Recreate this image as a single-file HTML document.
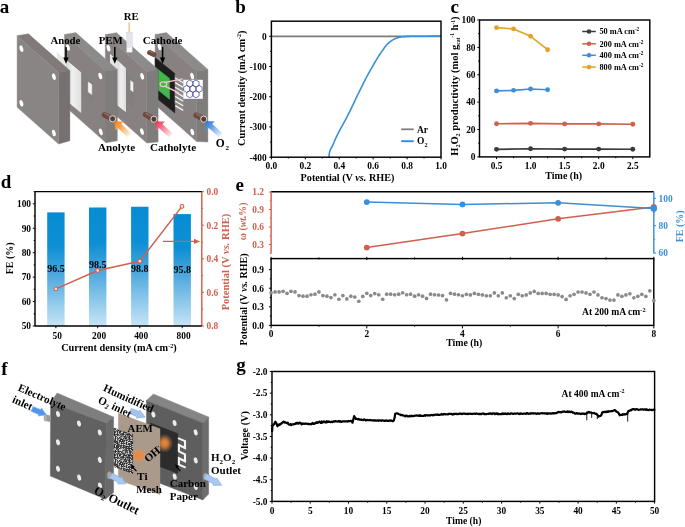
<!DOCTYPE html>
<html><head><meta charset="utf-8"><style>
html,body{margin:0;padding:0;background:#fff;}
svg{display:block;filter:blur(0.3px);}
</style></head><body>
<svg width="685" height="527" viewBox="0 0 685 527" font-family="Liberation Serif" font-weight="bold">
<text x="-0.30" y="12.60" font-size="19" text-anchor="start" fill="#000" >a</text>
<text x="235.20" y="12.70" font-size="19" text-anchor="start" fill="#000" >b</text>
<text x="450.60" y="12.70" font-size="19" text-anchor="start" fill="#000" >c</text>
<text x="0.80" y="188.20" font-size="19" text-anchor="start" fill="#000" >d</text>
<text x="235.60" y="190.50" font-size="19" text-anchor="start" fill="#000" >e</text>
<text x="1.30" y="375.30" font-size="19" text-anchor="start" fill="#000" >f</text>
<text x="236.20" y="370.70" font-size="19" text-anchor="start" fill="#000" >g</text>
<line x1="271.40" y1="157.20" x2="271.40" y2="159.40" stroke="#000" stroke-width="1.0" />
<line x1="305.32" y1="157.20" x2="305.32" y2="159.40" stroke="#000" stroke-width="1.0" />
<line x1="339.24" y1="157.20" x2="339.24" y2="159.40" stroke="#000" stroke-width="1.0" />
<line x1="373.16" y1="157.20" x2="373.16" y2="159.40" stroke="#000" stroke-width="1.0" />
<line x1="407.08" y1="157.20" x2="407.08" y2="159.40" stroke="#000" stroke-width="1.0" />
<line x1="441.00" y1="157.20" x2="441.00" y2="159.40" stroke="#000" stroke-width="1.0" />
<line x1="288.36" y1="157.20" x2="288.36" y2="158.50" stroke="#000" stroke-width="1.0" />
<line x1="322.28" y1="157.20" x2="322.28" y2="158.50" stroke="#000" stroke-width="1.0" />
<line x1="356.20" y1="157.20" x2="356.20" y2="158.50" stroke="#000" stroke-width="1.0" />
<line x1="390.12" y1="157.20" x2="390.12" y2="158.50" stroke="#000" stroke-width="1.0" />
<line x1="424.04" y1="157.20" x2="424.04" y2="158.50" stroke="#000" stroke-width="1.0" />
<line x1="271.40" y1="36.31" x2="269.20" y2="36.31" stroke="#000" stroke-width="1.0" />
<line x1="271.40" y1="66.53" x2="269.20" y2="66.53" stroke="#000" stroke-width="1.0" />
<line x1="271.40" y1="96.76" x2="269.20" y2="96.76" stroke="#000" stroke-width="1.0" />
<line x1="271.40" y1="126.98" x2="269.20" y2="126.98" stroke="#000" stroke-width="1.0" />
<line x1="271.40" y1="157.20" x2="269.20" y2="157.20" stroke="#000" stroke-width="1.0" />
<line x1="271.40" y1="51.42" x2="270.10" y2="51.42" stroke="#000" stroke-width="1.0" />
<line x1="271.40" y1="81.64" x2="270.10" y2="81.64" stroke="#000" stroke-width="1.0" />
<line x1="271.40" y1="111.87" x2="270.10" y2="111.87" stroke="#000" stroke-width="1.0" />
<line x1="271.40" y1="142.09" x2="270.10" y2="142.09" stroke="#000" stroke-width="1.0" />
<text x="271.40" y="169.00" font-size="9.4" text-anchor="middle" fill="#000" >0.0</text>
<text x="305.32" y="169.00" font-size="9.4" text-anchor="middle" fill="#000" >0.2</text>
<text x="339.24" y="169.00" font-size="9.4" text-anchor="middle" fill="#000" >0.4</text>
<text x="373.16" y="169.00" font-size="9.4" text-anchor="middle" fill="#000" >0.6</text>
<text x="407.08" y="169.00" font-size="9.4" text-anchor="middle" fill="#000" >0.8</text>
<text x="441.00" y="169.00" font-size="9.4" text-anchor="middle" fill="#000" >1.0</text>
<text x="266.60" y="39.61" font-size="9.4" text-anchor="end" fill="#000" >0</text>
<text x="266.60" y="69.83" font-size="9.4" text-anchor="end" fill="#000" >-100</text>
<text x="266.60" y="100.06" font-size="9.4" text-anchor="end" fill="#000" >-200</text>
<text x="266.60" y="130.28" font-size="9.4" text-anchor="end" fill="#000" >-300</text>
<text x="266.60" y="160.50" font-size="9.4" text-anchor="end" fill="#000" >-400</text>
<line x1="271.40" y1="36.40" x2="441.00" y2="36.40" stroke="#7a7a7a" stroke-width="1.6" />
<clipPath id="cpb"><rect x="271.4" y="21.2" width="169.6" height="136"/></clipPath>
<polyline points="328.70,158.50 328.71,158.42 328.72,158.34 328.74,158.24 328.77,158.04 328.82,157.72 328.90,157.20 329.00,156.44 329.11,155.46 329.25,154.35 329.42,153.18 329.63,152.04 329.90,151.00 330.23,150.09 330.63,149.24 331.06,148.42 331.53,147.58 332.01,146.69 332.50,145.70 332.99,144.61 333.49,143.45 334.01,142.24 334.54,140.98 335.11,139.70 335.70,138.40 336.31,137.11 336.92,135.83 337.56,134.51 338.24,133.14 338.98,131.68 339.80,130.10 340.72,128.38 341.74,126.54 342.81,124.62 343.92,122.63 345.02,120.62 346.10,118.60 347.18,116.50 348.31,114.28 349.44,112.02 350.52,109.83 351.52,107.79 352.40,106.00 353.10,104.54 353.65,103.35 354.12,102.32 354.57,101.31 355.07,100.22 355.70,98.90 356.46,97.35 357.29,95.65 358.18,93.86 359.10,92.02 360.01,90.18 360.90,88.40 361.77,86.65 362.63,84.89 363.50,83.13 364.37,81.39 365.23,79.67 366.10,78.00 366.97,76.37 367.83,74.78 368.70,73.21 369.57,71.67 370.43,70.13 371.30,68.60 372.17,67.07 373.03,65.53 373.90,64.01 374.77,62.51 375.63,61.04 376.50,59.60 377.36,58.20 378.21,56.84 379.06,55.51 379.92,54.20 380.80,52.90 381.70,51.60 382.63,50.27 383.59,48.92 384.56,47.58 385.54,46.28 386.52,45.08 387.50,44.00 388.48,43.06 389.46,42.22 390.45,41.47 391.44,40.79 392.42,40.17 393.40,39.60 394.37,39.08 395.34,38.62 396.31,38.22 397.27,37.87 398.23,37.57 399.20,37.30 400.18,37.09 401.16,36.93 402.15,36.82 403.13,36.74 404.08,36.67 405.00,36.60 405.76,36.52 406.36,36.46 406.93,36.41 407.62,36.37 408.60,36.33 410.00,36.30 411.91,36.27 414.22,36.25 416.81,36.24 419.56,36.23 422.33,36.21 425.00,36.20 427.79,36.18 430.85,36.16 433.94,36.14 436.81,36.13 439.25,36.11 441.00,36.10" fill="none" stroke="#3a8fd6" stroke-width="1.6" stroke-linejoin="round" clip-path="url(#cpb)"/>
<line x1="401.20" y1="129.30" x2="413.70" y2="129.30" stroke="#7a7a7a" stroke-width="1.7" />
<text x="417.00" y="132.60" font-size="9.5" text-anchor="start" fill="#000" >Ar</text>
<line x1="401.20" y1="141.20" x2="413.70" y2="141.20" stroke="#3a8fd6" stroke-width="2.0" />
<text x="417.00" y="143.90" font-size="9.5" text-anchor="start" fill="#000" >O<tspan font-size="6.2" dy="2.8">2</tspan></text>
<rect x="271.4" y="21.2" width="169.60000000000002" height="136.0" fill="none" stroke="#000" stroke-width="1.45"/>
<text x="347.50" y="181.10" font-size="10.2" text-anchor="middle" fill="#000" >Potential (V <tspan font-style="italic">vs.</tspan> RHE)</text>
<text transform="translate(244.5,88.2) rotate(-90)" font-size="10.3" text-anchor="middle">Current density (mA cm<tspan font-size="6" dy="-3.5">-2</tspan><tspan dy="3.5">)</tspan></text>
<line x1="496.53" y1="156.90" x2="496.53" y2="159.10" stroke="#000" stroke-width="1.0" />
<line x1="530.59" y1="156.90" x2="530.59" y2="159.10" stroke="#000" stroke-width="1.0" />
<line x1="564.65" y1="156.90" x2="564.65" y2="159.10" stroke="#000" stroke-width="1.0" />
<line x1="598.71" y1="156.90" x2="598.71" y2="159.10" stroke="#000" stroke-width="1.0" />
<line x1="632.77" y1="156.90" x2="632.77" y2="159.10" stroke="#000" stroke-width="1.0" />
<line x1="513.56" y1="156.90" x2="513.56" y2="158.20" stroke="#000" stroke-width="1.0" />
<line x1="547.62" y1="156.90" x2="547.62" y2="158.20" stroke="#000" stroke-width="1.0" />
<line x1="581.68" y1="156.90" x2="581.68" y2="158.20" stroke="#000" stroke-width="1.0" />
<line x1="615.74" y1="156.90" x2="615.74" y2="158.20" stroke="#000" stroke-width="1.0" />
<line x1="479.50" y1="156.90" x2="477.30" y2="156.90" stroke="#000" stroke-width="1.0" />
<line x1="479.50" y1="129.52" x2="477.30" y2="129.52" stroke="#000" stroke-width="1.0" />
<line x1="479.50" y1="102.14" x2="477.30" y2="102.14" stroke="#000" stroke-width="1.0" />
<line x1="479.50" y1="74.76" x2="477.30" y2="74.76" stroke="#000" stroke-width="1.0" />
<line x1="479.50" y1="47.38" x2="477.30" y2="47.38" stroke="#000" stroke-width="1.0" />
<line x1="479.50" y1="20.00" x2="477.30" y2="20.00" stroke="#000" stroke-width="1.0" />
<line x1="479.50" y1="143.21" x2="478.20" y2="143.21" stroke="#000" stroke-width="1.0" />
<line x1="479.50" y1="115.83" x2="478.20" y2="115.83" stroke="#000" stroke-width="1.0" />
<line x1="479.50" y1="88.45" x2="478.20" y2="88.45" stroke="#000" stroke-width="1.0" />
<line x1="479.50" y1="61.07" x2="478.20" y2="61.07" stroke="#000" stroke-width="1.0" />
<line x1="479.50" y1="33.69" x2="478.20" y2="33.69" stroke="#000" stroke-width="1.0" />
<text x="496.53" y="169.00" font-size="9.4" text-anchor="middle" fill="#000" >0.5</text>
<text x="530.59" y="169.00" font-size="9.4" text-anchor="middle" fill="#000" >1.0</text>
<text x="564.65" y="169.00" font-size="9.4" text-anchor="middle" fill="#000" >1.5</text>
<text x="598.71" y="169.00" font-size="9.4" text-anchor="middle" fill="#000" >2.0</text>
<text x="632.77" y="169.00" font-size="9.4" text-anchor="middle" fill="#000" >2.5</text>
<text x="475.50" y="160.20" font-size="9.4" text-anchor="end" fill="#000" >0</text>
<text x="475.50" y="132.82" font-size="9.4" text-anchor="end" fill="#000" >20</text>
<text x="475.50" y="105.44" font-size="9.4" text-anchor="end" fill="#000" >40</text>
<text x="475.50" y="78.06" font-size="9.4" text-anchor="end" fill="#000" >60</text>
<text x="475.50" y="50.68" font-size="9.4" text-anchor="end" fill="#000" >80</text>
<text x="475.50" y="23.30" font-size="9.4" text-anchor="end" fill="#000" >100</text>
<polyline points="496.53,149.37 530.59,148.69 564.65,149.10 598.71,149.10 632.77,149.23" fill="none" stroke="#3a3a3a" stroke-width="1.6" stroke-linejoin="round" stroke-linecap="round" />
<circle cx="496.53" cy="149.37" r="2.45" fill="#3a3a3a"/>
<circle cx="530.59" cy="148.69" r="2.45" fill="#3a3a3a"/>
<circle cx="564.65" cy="149.10" r="2.45" fill="#3a3a3a"/>
<circle cx="598.71" cy="149.10" r="2.45" fill="#3a3a3a"/>
<circle cx="632.77" cy="149.23" r="2.45" fill="#3a3a3a"/>
<polyline points="496.53,123.77 530.59,123.36 564.65,123.91 598.71,123.91 632.77,124.32" fill="none" stroke="#d0604d" stroke-width="1.6" stroke-linejoin="round" stroke-linecap="round" />
<circle cx="496.53" cy="123.77" r="2.45" fill="#d0604d"/>
<circle cx="530.59" cy="123.36" r="2.45" fill="#d0604d"/>
<circle cx="564.65" cy="123.91" r="2.45" fill="#d0604d"/>
<circle cx="598.71" cy="123.91" r="2.45" fill="#d0604d"/>
<circle cx="632.77" cy="124.32" r="2.45" fill="#d0604d"/>
<polyline points="496.53,90.91 513.56,90.37 530.59,89.00 547.62,89.82" fill="none" stroke="#3a8fd6" stroke-width="1.6" stroke-linejoin="round" stroke-linecap="round" />
<circle cx="496.53" cy="90.91" r="2.45" fill="#3a8fd6"/>
<circle cx="513.56" cy="90.37" r="2.45" fill="#3a8fd6"/>
<circle cx="530.59" cy="89.00" r="2.45" fill="#3a8fd6"/>
<circle cx="547.62" cy="89.82" r="2.45" fill="#3a8fd6"/>
<polyline points="496.53,27.67 513.56,28.90 530.59,36.29 547.62,49.71" fill="none" stroke="#e0a526" stroke-width="1.6" stroke-linejoin="round" stroke-linecap="round" />
<circle cx="496.53" cy="27.67" r="2.45" fill="#e0a526"/>
<circle cx="513.56" cy="28.90" r="2.45" fill="#e0a526"/>
<circle cx="530.59" cy="36.29" r="2.45" fill="#e0a526"/>
<circle cx="547.62" cy="49.71" r="2.45" fill="#e0a526"/>
<line x1="582.20" y1="31.50" x2="595.80" y2="31.50" stroke="#3a3a3a" stroke-width="1.5" />
<circle cx="589.00" cy="31.50" r="2.3" fill="#3a3a3a"/>
<text x="599.40" y="34.40" font-size="8.3" text-anchor="start" fill="#000" >50 mA cm<tspan font-size="5.2" dy="-3">-2</tspan></text>
<line x1="582.20" y1="43.80" x2="595.80" y2="43.80" stroke="#d0604d" stroke-width="1.5" />
<circle cx="589.00" cy="43.80" r="2.3" fill="#d0604d"/>
<text x="599.40" y="46.70" font-size="8.3" text-anchor="start" fill="#000" >200 mA cm<tspan font-size="5.2" dy="-3">-2</tspan></text>
<line x1="582.20" y1="55.30" x2="595.80" y2="55.30" stroke="#3a8fd6" stroke-width="1.5" />
<circle cx="589.00" cy="55.30" r="2.3" fill="#3a8fd6"/>
<text x="599.40" y="58.20" font-size="8.3" text-anchor="start" fill="#000" >400 mA cm<tspan font-size="5.2" dy="-3">-2</tspan></text>
<line x1="582.20" y1="67.10" x2="595.80" y2="67.10" stroke="#e0a526" stroke-width="1.5" />
<circle cx="589.00" cy="67.10" r="2.3" fill="#e0a526"/>
<text x="599.40" y="70.00" font-size="8.3" text-anchor="start" fill="#000" >800 mA cm<tspan font-size="5.2" dy="-3">-2</tspan></text>
<rect x="479.5" y="20.0" width="170.29999999999995" height="136.9" fill="none" stroke="#000" stroke-width="1.45"/>
<text x="563.70" y="178.50" font-size="10" text-anchor="middle" fill="#000" >Time (h)</text>
<text transform="translate(458.4,86.1) rotate(-90)" font-size="10.5" text-anchor="middle">H<tspan font-size="6" dy="2">2</tspan><tspan dy="-2">O</tspan><tspan font-size="6" dy="2">2</tspan><tspan dy="-2"> productivity (mol g</tspan><tspan font-size="5.5" dy="2">cat</tspan><tspan font-size="5.5" dy="-6">-1</tspan><tspan dy="4"> h</tspan><tspan font-size="5.5" dy="-3.5">-1</tspan><tspan dy="3.5">)</tspan></text>
<defs><linearGradient id="barg" x1="0" y1="0" x2="0" y2="1"><stop offset="0" stop-color="#078cd3"/><stop offset="0.3" stop-color="#0d8fd4"/><stop offset="0.55" stop-color="#4ea8dd"/><stop offset="1" stop-color="#c6e5f6"/></linearGradient></defs>
<rect x="47.20" y="212.37" width="17.40" height="113.63" fill="url(#barg)" />
<rect x="89.00" y="207.48" width="17.40" height="118.52" fill="url(#barg)" />
<rect x="131.10" y="206.75" width="17.40" height="119.25" fill="url(#barg)" />
<rect x="173.50" y="214.08" width="17.40" height="111.92" fill="url(#barg)" />
<text x="55.90" y="271.80" font-size="10" text-anchor="middle" fill="#000" >96.5</text>
<text x="97.70" y="268.20" font-size="10" text-anchor="middle" fill="#000" >98.5</text>
<text x="139.80" y="271.80" font-size="10" text-anchor="middle" fill="#000" >98.8</text>
<text x="182.20" y="272.50" font-size="10" text-anchor="middle" fill="#000" >95.8</text>
<polyline points="55.90,288.90 97.70,270.50 139.80,261.20 182.00,206.40" fill="none" stroke="#d0604d" stroke-width="1.5" stroke-linejoin="round" stroke-linecap="round" />
<circle cx="55.9" cy="288.9" r="1.9" fill="#fbe6e0" stroke="#d0604d" stroke-width="1.1"/>
<circle cx="97.7" cy="270.5" r="1.9" fill="#fbe6e0" stroke="#d0604d" stroke-width="1.1"/>
<circle cx="139.8" cy="261.2" r="1.9" fill="#fbe6e0" stroke="#d0604d" stroke-width="1.1"/>
<circle cx="182.0" cy="206.4" r="1.9" fill="#fbe6e0" stroke="#d0604d" stroke-width="1.1"/>
<line x1="162.90" y1="241.40" x2="196.00" y2="241.40" stroke="#d0604d" stroke-width="1.1" />
<polygon points="200,241.4 194,238.7 194,244.1" fill="#d0604d"/>
<line x1="55.90" y1="326.00" x2="55.90" y2="328.20" stroke="#000" stroke-width="1.0" />
<line x1="97.70" y1="326.00" x2="97.70" y2="328.20" stroke="#000" stroke-width="1.0" />
<line x1="139.80" y1="326.00" x2="139.80" y2="328.20" stroke="#000" stroke-width="1.0" />
<line x1="182.20" y1="326.00" x2="182.20" y2="328.20" stroke="#000" stroke-width="1.0" />
<line x1="35.00" y1="326.00" x2="32.80" y2="326.00" stroke="#000" stroke-width="1.0" />
<line x1="35.00" y1="301.56" x2="32.80" y2="301.56" stroke="#000" stroke-width="1.0" />
<line x1="35.00" y1="277.13" x2="32.80" y2="277.13" stroke="#000" stroke-width="1.0" />
<line x1="35.00" y1="252.69" x2="32.80" y2="252.69" stroke="#000" stroke-width="1.0" />
<line x1="35.00" y1="228.25" x2="32.80" y2="228.25" stroke="#000" stroke-width="1.0" />
<line x1="35.00" y1="203.82" x2="32.80" y2="203.82" stroke="#000" stroke-width="1.0" />
<line x1="35.00" y1="313.78" x2="33.70" y2="313.78" stroke="#000" stroke-width="1.0" />
<line x1="35.00" y1="289.35" x2="33.70" y2="289.35" stroke="#000" stroke-width="1.0" />
<line x1="35.00" y1="264.91" x2="33.70" y2="264.91" stroke="#000" stroke-width="1.0" />
<line x1="35.00" y1="240.47" x2="33.70" y2="240.47" stroke="#000" stroke-width="1.0" />
<line x1="35.00" y1="216.04" x2="33.70" y2="216.04" stroke="#000" stroke-width="1.0" />
<line x1="35.00" y1="191.60" x2="33.70" y2="191.60" stroke="#000" stroke-width="1.0" />
<text x="31.00" y="329.30" font-size="9.4" text-anchor="end" fill="#000" >50</text>
<text x="31.00" y="304.86" font-size="9.4" text-anchor="end" fill="#000" >60</text>
<text x="31.00" y="280.43" font-size="9.4" text-anchor="end" fill="#000" >70</text>
<text x="31.00" y="255.99" font-size="9.4" text-anchor="end" fill="#000" >80</text>
<text x="31.00" y="231.55" font-size="9.4" text-anchor="end" fill="#000" >90</text>
<text x="31.00" y="207.12" font-size="9.4" text-anchor="end" fill="#000" >100</text>
<text x="57.30" y="338.70" font-size="9.4" text-anchor="middle" fill="#000" >50</text>
<text x="99.10" y="338.70" font-size="9.4" text-anchor="middle" fill="#000" >200</text>
<text x="141.20" y="338.70" font-size="9.4" text-anchor="middle" fill="#000" >400</text>
<text x="183.60" y="338.70" font-size="9.4" text-anchor="middle" fill="#000" >800</text>
<line x1="201.80" y1="191.60" x2="201.80" y2="326.00" stroke="#d0604d" stroke-width="1.45" />
<line x1="201.80" y1="191.60" x2="204.00" y2="191.60" stroke="#d0604d" stroke-width="1.0" />
<line x1="201.80" y1="225.20" x2="204.00" y2="225.20" stroke="#d0604d" stroke-width="1.0" />
<line x1="201.80" y1="258.80" x2="204.00" y2="258.80" stroke="#d0604d" stroke-width="1.0" />
<line x1="201.80" y1="292.40" x2="204.00" y2="292.40" stroke="#d0604d" stroke-width="1.0" />
<line x1="201.80" y1="326.00" x2="204.00" y2="326.00" stroke="#d0604d" stroke-width="1.0" />
<line x1="201.80" y1="208.40" x2="203.10" y2="208.40" stroke="#d0604d" stroke-width="1.0" />
<line x1="201.80" y1="242.00" x2="203.10" y2="242.00" stroke="#d0604d" stroke-width="1.0" />
<line x1="201.80" y1="275.60" x2="203.10" y2="275.60" stroke="#d0604d" stroke-width="1.0" />
<line x1="201.80" y1="309.20" x2="203.10" y2="309.20" stroke="#d0604d" stroke-width="1.0" />
<text x="206.50" y="194.90" font-size="9.4" text-anchor="start" fill="#d0604d" >0.0</text>
<text x="206.50" y="228.50" font-size="9.4" text-anchor="start" fill="#d0604d" >0.2</text>
<text x="206.50" y="262.10" font-size="9.4" text-anchor="start" fill="#d0604d" >0.4</text>
<text x="206.50" y="295.70" font-size="9.4" text-anchor="start" fill="#d0604d" >0.6</text>
<text x="206.50" y="329.30" font-size="9.4" text-anchor="start" fill="#d0604d" >0.8</text>
<line x1="35.00" y1="191.60" x2="201.80" y2="191.60" stroke="#000" stroke-width="1.45" />
<line x1="35.00" y1="326.00" x2="201.80" y2="326.00" stroke="#000" stroke-width="1.45" />
<line x1="35.00" y1="191.60" x2="35.00" y2="326.00" stroke="#000" stroke-width="1.45" />
<text x="118.90" y="351.30" font-size="10.3" text-anchor="middle" fill="#000" >Current density (mA cm<tspan font-size="6" dy="-3.5">-2</tspan><tspan dy="3.5">)</tspan></text>
<text transform="translate(12.7,258.3) rotate(-90)" font-size="10" text-anchor="middle">FE (%)</text>
<text transform="translate(228.5,262) rotate(-90)" font-size="10.5" text-anchor="middle" fill="#d0604d">Potential (V <tspan font-style="italic">vs.</tspan> RHE)</text>
<line x1="271.10" y1="191.80" x2="653.80" y2="191.80" stroke="#000" stroke-width="1.45" />
<line x1="271.10" y1="191.80" x2="271.10" y2="253.50" stroke="#d0604d" stroke-width="1.45" />
<line x1="653.80" y1="191.80" x2="653.80" y2="253.50" stroke="#3a8fd6" stroke-width="1.45" />
<line x1="271.10" y1="244.50" x2="268.90" y2="244.50" stroke="#d0604d" stroke-width="1.0" />
<line x1="271.10" y1="227.00" x2="268.90" y2="227.00" stroke="#d0604d" stroke-width="1.0" />
<line x1="271.10" y1="209.50" x2="268.90" y2="209.50" stroke="#d0604d" stroke-width="1.0" />
<line x1="271.10" y1="192.00" x2="268.90" y2="192.00" stroke="#d0604d" stroke-width="1.0" />
<line x1="271.10" y1="253.25" x2="269.80" y2="253.25" stroke="#d0604d" stroke-width="1.0" />
<line x1="271.10" y1="235.75" x2="269.80" y2="235.75" stroke="#d0604d" stroke-width="1.0" />
<line x1="271.10" y1="218.25" x2="269.80" y2="218.25" stroke="#d0604d" stroke-width="1.0" />
<line x1="271.10" y1="200.75" x2="269.80" y2="200.75" stroke="#d0604d" stroke-width="1.0" />
<text x="264.00" y="247.80" font-size="9.4" text-anchor="end" fill="#d0604d" >0.3</text>
<text x="264.00" y="230.30" font-size="9.4" text-anchor="end" fill="#d0604d" >0.6</text>
<text x="264.00" y="212.80" font-size="9.4" text-anchor="end" fill="#d0604d" >0.9</text>
<text x="264.00" y="195.30" font-size="9.4" text-anchor="end" fill="#d0604d" >1.2</text>
<line x1="653.80" y1="253.00" x2="656.00" y2="253.00" stroke="#3a8fd6" stroke-width="1.0" />
<line x1="653.80" y1="225.70" x2="656.00" y2="225.70" stroke="#3a8fd6" stroke-width="1.0" />
<line x1="653.80" y1="198.40" x2="656.00" y2="198.40" stroke="#3a8fd6" stroke-width="1.0" />
<line x1="653.80" y1="239.35" x2="655.10" y2="239.35" stroke="#3a8fd6" stroke-width="1.0" />
<line x1="653.80" y1="212.05" x2="655.10" y2="212.05" stroke="#3a8fd6" stroke-width="1.0" />
<text x="658.50" y="256.30" font-size="9.4" text-anchor="start" fill="#3a8fd6" >60</text>
<text x="658.50" y="229.00" font-size="9.4" text-anchor="start" fill="#3a8fd6" >80</text>
<text x="658.50" y="201.70" font-size="9.4" text-anchor="start" fill="#3a8fd6" >100</text>
<polyline points="366.77,247.60 462.45,233.60 558.12,218.80 653.80,207.00" fill="none" stroke="#d0604d" stroke-width="1.5" stroke-linejoin="round" stroke-linecap="round" />
<circle cx="366.77" cy="247.60" r="2.9" fill="#d0604d"/>
<circle cx="462.45" cy="233.60" r="2.9" fill="#d0604d"/>
<circle cx="558.12" cy="218.80" r="2.9" fill="#d0604d"/>
<circle cx="653.80" cy="207.00" r="2.9" fill="#d0604d"/>
<polyline points="366.77,202.10 462.45,204.40 558.12,202.80 653.80,208.60" fill="none" stroke="#3a8fd6" stroke-width="1.5" stroke-linejoin="round" stroke-linecap="round" />
<circle cx="366.77" cy="202.10" r="2.9" fill="#3a8fd6"/>
<circle cx="462.45" cy="204.40" r="2.9" fill="#3a8fd6"/>
<circle cx="558.12" cy="202.80" r="2.9" fill="#3a8fd6"/>
<circle cx="653.80" cy="208.60" r="3.3" fill="#3a8fd6"/>
<text transform="translate(245.8,221.4) rotate(-90)" font-size="9.8" text-anchor="middle" fill="#d0604d">ω (<tspan font-style="italic">wt.</tspan>%)</text>
<text transform="translate(683,226.3) rotate(-90)" font-size="10" text-anchor="middle" fill="#3a8fd6">FE (%)</text>
<rect x="271.1" y="258.6" width="382.69999999999993" height="66.79999999999995" fill="none" stroke="#000" stroke-width="1.45"/>
<line x1="271.10" y1="325.40" x2="271.10" y2="328.40" stroke="#000" stroke-width="1.0" />
<line x1="366.77" y1="325.40" x2="366.77" y2="328.40" stroke="#000" stroke-width="1.0" />
<line x1="462.45" y1="325.40" x2="462.45" y2="328.40" stroke="#000" stroke-width="1.0" />
<line x1="558.12" y1="325.40" x2="558.12" y2="328.40" stroke="#000" stroke-width="1.0" />
<line x1="653.80" y1="325.40" x2="653.80" y2="328.40" stroke="#000" stroke-width="1.0" />
<line x1="318.94" y1="325.40" x2="318.94" y2="326.70" stroke="#000" stroke-width="1.0" />
<line x1="414.61" y1="325.40" x2="414.61" y2="326.70" stroke="#000" stroke-width="1.0" />
<line x1="510.29" y1="325.40" x2="510.29" y2="326.70" stroke="#000" stroke-width="1.0" />
<line x1="605.96" y1="325.40" x2="605.96" y2="326.70" stroke="#000" stroke-width="1.0" />
<line x1="271.10" y1="256.80" x2="271.10" y2="260.10" stroke="#000" stroke-width="1.0" />
<line x1="366.77" y1="256.80" x2="366.77" y2="260.10" stroke="#000" stroke-width="1.0" />
<line x1="462.45" y1="256.80" x2="462.45" y2="260.10" stroke="#000" stroke-width="1.0" />
<line x1="558.12" y1="256.80" x2="558.12" y2="260.10" stroke="#000" stroke-width="1.0" />
<line x1="653.80" y1="256.80" x2="653.80" y2="260.10" stroke="#000" stroke-width="1.0" />
<line x1="318.94" y1="257.40" x2="318.94" y2="259.40" stroke="#000" stroke-width="1.0" />
<line x1="414.61" y1="257.40" x2="414.61" y2="259.40" stroke="#000" stroke-width="1.0" />
<line x1="510.29" y1="257.40" x2="510.29" y2="259.40" stroke="#000" stroke-width="1.0" />
<line x1="605.96" y1="257.40" x2="605.96" y2="259.40" stroke="#000" stroke-width="1.0" />
<line x1="271.10" y1="325.40" x2="268.90" y2="325.40" stroke="#000" stroke-width="1.0" />
<line x1="271.10" y1="306.80" x2="268.90" y2="306.80" stroke="#000" stroke-width="1.0" />
<line x1="271.10" y1="288.20" x2="268.90" y2="288.20" stroke="#000" stroke-width="1.0" />
<line x1="271.10" y1="269.60" x2="268.90" y2="269.60" stroke="#000" stroke-width="1.0" />
<line x1="271.10" y1="316.10" x2="269.80" y2="316.10" stroke="#000" stroke-width="1.0" />
<line x1="271.10" y1="297.50" x2="269.80" y2="297.50" stroke="#000" stroke-width="1.0" />
<line x1="271.10" y1="278.90" x2="269.80" y2="278.90" stroke="#000" stroke-width="1.0" />
<text x="264.00" y="328.70" font-size="9.4" text-anchor="end" fill="#000" >0.0</text>
<text x="264.00" y="310.10" font-size="9.4" text-anchor="end" fill="#000" >0.3</text>
<text x="264.00" y="291.50" font-size="9.4" text-anchor="end" fill="#000" >0.6</text>
<text x="264.00" y="272.90" font-size="9.4" text-anchor="end" fill="#000" >0.9</text>
<text x="271.10" y="336.50" font-size="9.4" text-anchor="middle" fill="#000" >0</text>
<text x="366.77" y="336.50" font-size="9.4" text-anchor="middle" fill="#000" >2</text>
<text x="462.45" y="336.50" font-size="9.4" text-anchor="middle" fill="#000" >4</text>
<text x="558.12" y="336.50" font-size="9.4" text-anchor="middle" fill="#000" >6</text>
<text x="653.80" y="336.50" font-size="9.4" text-anchor="middle" fill="#000" >8</text>
<text x="464.20" y="346.20" font-size="9.8" text-anchor="middle" fill="#000" >Time (h)</text>
<text transform="translate(246.5,299.4) rotate(-90)" font-size="10" text-anchor="middle">Potential (V <tspan font-style="italic">vs.</tspan> RHE)</text>
<text x="645.50" y="315.20" font-size="9.6" text-anchor="end" fill="#000" >At 200 mA cm<tspan font-size="6.2" dy="-3.6">-2</tspan></text>
<circle cx="271.10" cy="292.74" r="1.85" fill="#8a8a8a"/>
<circle cx="275.09" cy="291.89" r="1.85" fill="#8a8a8a"/>
<circle cx="279.07" cy="291.89" r="1.85" fill="#8a8a8a"/>
<circle cx="283.06" cy="291.33" r="1.85" fill="#8a8a8a"/>
<circle cx="287.05" cy="293.31" r="1.85" fill="#8a8a8a"/>
<circle cx="291.03" cy="291.33" r="1.85" fill="#8a8a8a"/>
<circle cx="295.02" cy="291.89" r="1.85" fill="#8a8a8a"/>
<circle cx="299.01" cy="295.58" r="1.85" fill="#8a8a8a"/>
<circle cx="302.99" cy="296.14" r="1.85" fill="#8a8a8a"/>
<circle cx="306.98" cy="296.14" r="1.85" fill="#8a8a8a"/>
<circle cx="310.96" cy="294.73" r="1.85" fill="#8a8a8a"/>
<circle cx="314.95" cy="294.16" r="1.85" fill="#8a8a8a"/>
<circle cx="318.94" cy="291.89" r="1.85" fill="#8a8a8a"/>
<circle cx="322.92" cy="295.58" r="1.85" fill="#8a8a8a"/>
<circle cx="326.91" cy="296.14" r="1.85" fill="#8a8a8a"/>
<circle cx="330.90" cy="297.56" r="1.85" fill="#8a8a8a"/>
<circle cx="334.88" cy="294.73" r="1.85" fill="#8a8a8a"/>
<circle cx="338.87" cy="299.26" r="1.85" fill="#8a8a8a"/>
<circle cx="342.86" cy="295.58" r="1.85" fill="#8a8a8a"/>
<circle cx="346.84" cy="298.97" r="1.85" fill="#8a8a8a"/>
<circle cx="350.83" cy="296.14" r="1.85" fill="#8a8a8a"/>
<circle cx="354.82" cy="296.99" r="1.85" fill="#8a8a8a"/>
<circle cx="358.80" cy="301.24" r="1.85" fill="#8a8a8a"/>
<circle cx="362.79" cy="296.43" r="1.85" fill="#8a8a8a"/>
<circle cx="366.78" cy="293.31" r="1.85" fill="#8a8a8a"/>
<circle cx="370.76" cy="295.58" r="1.85" fill="#8a8a8a"/>
<circle cx="374.75" cy="293.59" r="1.85" fill="#8a8a8a"/>
<circle cx="378.73" cy="294.73" r="1.85" fill="#8a8a8a"/>
<circle cx="382.72" cy="299.26" r="1.85" fill="#8a8a8a"/>
<circle cx="386.71" cy="294.16" r="1.85" fill="#8a8a8a"/>
<circle cx="390.69" cy="294.16" r="1.85" fill="#8a8a8a"/>
<circle cx="394.68" cy="294.73" r="1.85" fill="#8a8a8a"/>
<circle cx="398.67" cy="294.16" r="1.85" fill="#8a8a8a"/>
<circle cx="402.65" cy="292.74" r="1.85" fill="#8a8a8a"/>
<circle cx="406.64" cy="294.73" r="1.85" fill="#8a8a8a"/>
<circle cx="410.63" cy="294.16" r="1.85" fill="#8a8a8a"/>
<circle cx="414.61" cy="296.14" r="1.85" fill="#8a8a8a"/>
<circle cx="418.60" cy="294.73" r="1.85" fill="#8a8a8a"/>
<circle cx="422.59" cy="296.14" r="1.85" fill="#8a8a8a"/>
<circle cx="426.57" cy="298.41" r="1.85" fill="#8a8a8a"/>
<circle cx="430.56" cy="294.16" r="1.85" fill="#8a8a8a"/>
<circle cx="434.54" cy="294.73" r="1.85" fill="#8a8a8a"/>
<circle cx="438.53" cy="295.01" r="1.85" fill="#8a8a8a"/>
<circle cx="442.52" cy="295.58" r="1.85" fill="#8a8a8a"/>
<circle cx="446.50" cy="299.82" r="1.85" fill="#8a8a8a"/>
<circle cx="450.49" cy="293.31" r="1.85" fill="#8a8a8a"/>
<circle cx="454.48" cy="294.16" r="1.85" fill="#8a8a8a"/>
<circle cx="458.46" cy="294.73" r="1.85" fill="#8a8a8a"/>
<circle cx="462.45" cy="295.74" r="1.85" fill="#8a8a8a"/>
<circle cx="466.44" cy="294.31" r="1.85" fill="#8a8a8a"/>
<circle cx="470.42" cy="294.88" r="1.85" fill="#8a8a8a"/>
<circle cx="474.41" cy="293.45" r="1.85" fill="#8a8a8a"/>
<circle cx="478.40" cy="294.31" r="1.85" fill="#8a8a8a"/>
<circle cx="482.38" cy="294.88" r="1.85" fill="#8a8a8a"/>
<circle cx="486.37" cy="295.74" r="1.85" fill="#8a8a8a"/>
<circle cx="490.36" cy="295.74" r="1.85" fill="#8a8a8a"/>
<circle cx="494.34" cy="292.88" r="1.85" fill="#8a8a8a"/>
<circle cx="498.33" cy="295.74" r="1.85" fill="#8a8a8a"/>
<circle cx="502.31" cy="292.88" r="1.85" fill="#8a8a8a"/>
<circle cx="506.30" cy="297.74" r="1.85" fill="#8a8a8a"/>
<circle cx="510.29" cy="295.74" r="1.85" fill="#8a8a8a"/>
<circle cx="514.27" cy="298.60" r="1.85" fill="#8a8a8a"/>
<circle cx="518.26" cy="294.31" r="1.85" fill="#8a8a8a"/>
<circle cx="522.25" cy="295.74" r="1.85" fill="#8a8a8a"/>
<circle cx="526.23" cy="294.88" r="1.85" fill="#8a8a8a"/>
<circle cx="530.22" cy="292.88" r="1.85" fill="#8a8a8a"/>
<circle cx="534.21" cy="291.44" r="1.85" fill="#8a8a8a"/>
<circle cx="538.19" cy="293.45" r="1.85" fill="#8a8a8a"/>
<circle cx="542.18" cy="293.45" r="1.85" fill="#8a8a8a"/>
<circle cx="546.17" cy="293.45" r="1.85" fill="#8a8a8a"/>
<circle cx="550.15" cy="294.31" r="1.85" fill="#8a8a8a"/>
<circle cx="554.14" cy="294.31" r="1.85" fill="#8a8a8a"/>
<circle cx="558.12" cy="294.88" r="1.85" fill="#8a8a8a"/>
<circle cx="562.11" cy="296.60" r="1.85" fill="#8a8a8a"/>
<circle cx="566.10" cy="299.46" r="1.85" fill="#8a8a8a"/>
<circle cx="570.08" cy="295.74" r="1.85" fill="#8a8a8a"/>
<circle cx="574.07" cy="294.31" r="1.85" fill="#8a8a8a"/>
<circle cx="578.06" cy="292.02" r="1.85" fill="#8a8a8a"/>
<circle cx="582.04" cy="292.02" r="1.85" fill="#8a8a8a"/>
<circle cx="586.03" cy="292.88" r="1.85" fill="#8a8a8a"/>
<circle cx="590.02" cy="294.31" r="1.85" fill="#8a8a8a"/>
<circle cx="594.00" cy="292.02" r="1.85" fill="#8a8a8a"/>
<circle cx="597.99" cy="294.88" r="1.85" fill="#8a8a8a"/>
<circle cx="601.98" cy="297.74" r="1.85" fill="#8a8a8a"/>
<circle cx="605.96" cy="298.60" r="1.85" fill="#8a8a8a"/>
<circle cx="609.95" cy="300.03" r="1.85" fill="#8a8a8a"/>
<circle cx="613.94" cy="300.03" r="1.85" fill="#8a8a8a"/>
<circle cx="617.92" cy="294.88" r="1.85" fill="#8a8a8a"/>
<circle cx="621.91" cy="296.31" r="1.85" fill="#8a8a8a"/>
<circle cx="625.89" cy="294.88" r="1.85" fill="#8a8a8a"/>
<circle cx="629.88" cy="293.73" r="1.85" fill="#8a8a8a"/>
<circle cx="633.87" cy="297.74" r="1.85" fill="#8a8a8a"/>
<circle cx="637.85" cy="296.31" r="1.85" fill="#8a8a8a"/>
<circle cx="641.84" cy="294.31" r="1.85" fill="#8a8a8a"/>
<circle cx="645.83" cy="296.31" r="1.85" fill="#8a8a8a"/>
<circle cx="649.81" cy="290.87" r="1.85" fill="#8a8a8a"/>
<circle cx="653.80" cy="300.60" r="1.85" fill="#8a8a8a"/>
<rect x="272.0" y="371.5" width="382.6" height="129.89999999999998" fill="none" stroke="#000" stroke-width="1.45"/>
<line x1="272.00" y1="501.40" x2="272.00" y2="503.60" stroke="#000" stroke-width="1.0" />
<line x1="310.26" y1="501.40" x2="310.26" y2="503.60" stroke="#000" stroke-width="1.0" />
<line x1="348.52" y1="501.40" x2="348.52" y2="503.60" stroke="#000" stroke-width="1.0" />
<line x1="386.78" y1="501.40" x2="386.78" y2="503.60" stroke="#000" stroke-width="1.0" />
<line x1="425.04" y1="501.40" x2="425.04" y2="503.60" stroke="#000" stroke-width="1.0" />
<line x1="463.30" y1="501.40" x2="463.30" y2="503.60" stroke="#000" stroke-width="1.0" />
<line x1="501.56" y1="501.40" x2="501.56" y2="503.60" stroke="#000" stroke-width="1.0" />
<line x1="539.82" y1="501.40" x2="539.82" y2="503.60" stroke="#000" stroke-width="1.0" />
<line x1="578.08" y1="501.40" x2="578.08" y2="503.60" stroke="#000" stroke-width="1.0" />
<line x1="616.34" y1="501.40" x2="616.34" y2="503.60" stroke="#000" stroke-width="1.0" />
<line x1="654.60" y1="501.40" x2="654.60" y2="503.60" stroke="#000" stroke-width="1.0" />
<line x1="291.13" y1="501.40" x2="291.13" y2="502.70" stroke="#000" stroke-width="1.0" />
<line x1="329.39" y1="501.40" x2="329.39" y2="502.70" stroke="#000" stroke-width="1.0" />
<line x1="367.65" y1="501.40" x2="367.65" y2="502.70" stroke="#000" stroke-width="1.0" />
<line x1="405.91" y1="501.40" x2="405.91" y2="502.70" stroke="#000" stroke-width="1.0" />
<line x1="444.17" y1="501.40" x2="444.17" y2="502.70" stroke="#000" stroke-width="1.0" />
<line x1="482.43" y1="501.40" x2="482.43" y2="502.70" stroke="#000" stroke-width="1.0" />
<line x1="520.69" y1="501.40" x2="520.69" y2="502.70" stroke="#000" stroke-width="1.0" />
<line x1="558.95" y1="501.40" x2="558.95" y2="502.70" stroke="#000" stroke-width="1.0" />
<line x1="597.21" y1="501.40" x2="597.21" y2="502.70" stroke="#000" stroke-width="1.0" />
<line x1="635.47" y1="501.40" x2="635.47" y2="502.70" stroke="#000" stroke-width="1.0" />
<line x1="272.00" y1="371.50" x2="269.80" y2="371.50" stroke="#000" stroke-width="1.0" />
<line x1="272.00" y1="393.15" x2="269.80" y2="393.15" stroke="#000" stroke-width="1.0" />
<line x1="272.00" y1="414.80" x2="269.80" y2="414.80" stroke="#000" stroke-width="1.0" />
<line x1="272.00" y1="436.45" x2="269.80" y2="436.45" stroke="#000" stroke-width="1.0" />
<line x1="272.00" y1="458.10" x2="269.80" y2="458.10" stroke="#000" stroke-width="1.0" />
<line x1="272.00" y1="479.75" x2="269.80" y2="479.75" stroke="#000" stroke-width="1.0" />
<line x1="272.00" y1="501.40" x2="269.80" y2="501.40" stroke="#000" stroke-width="1.0" />
<line x1="272.00" y1="382.32" x2="270.70" y2="382.32" stroke="#000" stroke-width="1.0" />
<line x1="272.00" y1="403.98" x2="270.70" y2="403.98" stroke="#000" stroke-width="1.0" />
<line x1="272.00" y1="425.62" x2="270.70" y2="425.62" stroke="#000" stroke-width="1.0" />
<line x1="272.00" y1="447.27" x2="270.70" y2="447.27" stroke="#000" stroke-width="1.0" />
<line x1="272.00" y1="468.92" x2="270.70" y2="468.92" stroke="#000" stroke-width="1.0" />
<line x1="272.00" y1="490.57" x2="270.70" y2="490.57" stroke="#000" stroke-width="1.0" />
<text x="272.00" y="513.80" font-size="9.4" text-anchor="middle" fill="#000" >0</text>
<text x="310.26" y="513.80" font-size="9.4" text-anchor="middle" fill="#000" >5</text>
<text x="348.52" y="513.80" font-size="9.4" text-anchor="middle" fill="#000" >10</text>
<text x="386.78" y="513.80" font-size="9.4" text-anchor="middle" fill="#000" >15</text>
<text x="425.04" y="513.80" font-size="9.4" text-anchor="middle" fill="#000" >20</text>
<text x="463.30" y="513.80" font-size="9.4" text-anchor="middle" fill="#000" >25</text>
<text x="501.56" y="513.80" font-size="9.4" text-anchor="middle" fill="#000" >30</text>
<text x="539.82" y="513.80" font-size="9.4" text-anchor="middle" fill="#000" >35</text>
<text x="578.08" y="513.80" font-size="9.4" text-anchor="middle" fill="#000" >40</text>
<text x="616.34" y="513.80" font-size="9.4" text-anchor="middle" fill="#000" >45</text>
<text x="654.60" y="513.80" font-size="9.4" text-anchor="middle" fill="#000" >50</text>
<text x="267.50" y="374.80" font-size="9.4" text-anchor="end" fill="#000" >-2.0</text>
<text x="267.50" y="396.45" font-size="9.4" text-anchor="end" fill="#000" >-2.5</text>
<text x="267.50" y="418.10" font-size="9.4" text-anchor="end" fill="#000" >-3.0</text>
<text x="267.50" y="439.75" font-size="9.4" text-anchor="end" fill="#000" >-3.5</text>
<text x="267.50" y="461.40" font-size="9.4" text-anchor="end" fill="#000" >-4.0</text>
<text x="267.50" y="483.05" font-size="9.4" text-anchor="end" fill="#000" >-4.5</text>
<text x="267.50" y="504.70" font-size="9.4" text-anchor="end" fill="#000" >-5.0</text>
<text x="463.70" y="523.60" font-size="9.6" text-anchor="middle" fill="#000" >Time (h)</text>
<text transform="translate(248,435.8) rotate(-90)" font-size="10.2" text-anchor="middle">Voltage (V)</text>
<text x="593.00" y="396.50" font-size="9.5" text-anchor="middle" fill="#000" >At 400 mA cm<tspan font-size="6" dy="-3.5">-2</tspan></text>
<polyline points="272.10,431.08 272.30,428.07 272.60,425.49 273.50,424.77 274.40,423.70 275.30,421.70 276.40,423.41 277.50,426.25 278.23,424.81 278.97,424.27 279.70,425.00 280.43,423.74 281.17,423.91 281.90,422.91 282.63,422.76 283.37,421.55 284.10,421.92 284.83,422.57 285.55,422.29 286.27,422.92 287.00,423.08 287.73,422.64 288.45,424.32 289.17,424.60 289.90,424.68 290.62,424.02 291.34,425.15 292.06,424.30 292.78,424.47 293.50,424.51 294.24,424.03 294.98,424.14 295.72,423.07 296.46,423.51 297.20,422.71 297.92,423.65 298.64,423.69 299.36,422.57 300.08,422.77 300.80,423.04 301.54,424.33 302.28,423.56 303.02,423.95 303.76,423.50 304.50,423.91 305.22,423.64 305.94,423.50 306.66,423.80 307.38,423.72 308.10,424.15 308.84,423.79 309.58,424.19 310.32,424.08 311.06,424.30 311.80,423.78 312.53,422.82 313.25,423.81 313.98,423.84 314.70,423.61 315.43,422.92 316.15,423.02 316.88,422.07 317.60,422.94 318.30,422.48 319.00,421.97 319.70,421.57 320.40,422.81 321.10,422.99 321.80,421.49 322.50,422.61 323.20,421.93 323.90,421.47 324.60,421.67 325.30,422.40 326.00,422.52 326.70,421.14 327.40,422.03 328.10,421.39 328.83,421.97 329.57,421.60 330.30,422.08 331.03,422.14 331.77,421.69 332.50,422.12 333.23,421.47 333.97,421.24 334.70,421.69 335.43,421.16 336.17,421.28 336.90,421.45 337.63,421.61 338.37,421.18 339.10,421.05 339.83,421.78 340.57,421.25 341.30,421.81 342.00,421.73 342.70,421.24 343.40,421.28 344.10,421.31 344.80,421.40 345.50,421.33 346.20,421.27 346.90,421.29 347.60,421.56 348.30,421.14 349.00,421.04 349.70,421.28 350.40,420.82 351.10,420.85 351.80,421.43 352.50,422.72 353.40,419.04 354.20,416.16 354.95,417.62 355.70,418.87 356.46,418.50 357.21,419.16 357.97,419.30 358.73,418.92 359.49,419.56 360.24,419.54 361.00,419.86 361.73,419.61 362.46,419.98 363.18,420.05 363.91,419.45 364.64,419.53 365.37,420.13 366.09,420.43 366.82,419.83 367.55,420.06 368.28,420.23 369.01,420.03 369.73,420.11 370.46,420.11 371.19,420.20 371.92,420.45 372.64,420.23 373.37,420.34 374.10,420.75 374.80,420.08 375.51,420.58 376.21,420.74 376.91,420.37 377.62,420.30 378.32,420.84 379.03,420.34 379.73,420.30 380.43,420.54 381.14,420.79 381.84,420.26 382.54,420.47 383.25,420.49 383.95,420.95 384.65,420.61 385.36,420.99 386.06,420.38 386.76,420.55 387.47,420.84 388.17,421.06 388.88,420.68 389.58,420.49 390.28,420.41 390.99,420.78 391.69,420.49 392.39,421.05 393.10,421.09 393.80,420.52 394.60,417.80 395.20,413.78 396.15,413.43 397.10,413.38 398.10,413.66 399.10,414.17 400.00,414.51 400.76,415.15 401.51,414.87 402.27,415.12 403.03,415.37 403.79,415.56 404.54,415.73 405.30,416.38 406.00,415.67 406.70,415.52 407.40,416.35 408.10,416.28 408.80,416.35 409.50,415.84 410.20,416.29 410.90,416.25 411.60,415.60 412.30,416.05 413.00,416.12 413.70,415.95 414.40,415.80 415.10,415.58 415.80,415.61 416.50,415.49 417.20,415.33 417.90,415.78 418.60,415.49 419.30,415.95 420.00,415.24 420.70,416.00 421.40,415.79 422.10,415.98 422.80,415.94 423.50,415.93 424.20,415.62 424.90,415.10 425.60,415.74 426.30,415.20 427.03,415.26 427.76,415.54 428.48,415.36 429.21,415.20 429.94,415.62 430.67,415.27 431.39,414.97 432.12,414.83 432.85,415.33 433.58,414.92 434.31,415.14 435.03,414.70 435.76,414.51 436.49,414.75 437.22,414.95 437.94,414.32 438.67,414.82 439.40,414.88 440.11,414.76 440.82,414.75 441.53,414.00 442.24,414.54 442.95,414.73 443.66,413.98 444.38,414.16 445.09,414.14 445.80,414.35 446.51,414.24 447.22,414.27 447.93,414.52 448.64,413.81 449.35,413.83 450.06,413.88 450.77,413.86 451.48,413.79 452.19,414.59 452.91,414.46 453.62,413.75 454.33,414.10 455.04,413.92 455.75,413.90 456.46,413.91 457.17,414.16 457.88,414.09 458.59,413.86 459.30,413.69 460.01,413.80 460.72,413.59 461.44,413.96 462.15,414.09 462.86,413.77 463.57,413.48 464.28,413.55 464.99,413.70 465.70,413.89 466.41,414.05 467.13,413.69 467.84,414.07 468.56,413.91 469.27,413.74 469.99,413.69 470.70,413.80 471.42,413.98 472.13,413.73 472.85,413.97 473.56,413.76 474.28,413.57 474.99,413.83 475.71,413.98 476.42,413.41 477.14,413.73 477.85,413.73 478.56,414.14 479.28,414.19 479.99,413.69 480.71,414.16 481.42,414.06 482.14,413.59 482.85,413.77 483.57,413.46 484.28,414.08 485.00,413.95 485.71,414.15 486.43,414.06 487.14,413.95 487.86,414.01 488.57,413.86 489.29,413.44 490.00,413.88 490.71,413.35 491.42,413.48 492.12,414.05 492.83,413.39 493.54,413.43 494.25,413.44 494.96,414.14 495.66,413.51 496.37,413.37 497.08,414.11 497.79,413.46 498.50,414.11 499.20,413.96 499.91,414.10 500.62,414.21 501.33,413.87 502.04,414.07 502.74,413.38 503.45,414.04 504.16,413.81 504.87,413.99 505.58,413.45 506.28,414.02 506.99,414.19 507.70,413.41 508.40,413.63 509.11,413.84 509.81,414.06 510.51,413.53 511.22,413.46 511.92,413.51 512.62,413.83 513.33,413.94 514.03,413.61 514.74,413.57 515.44,413.59 516.14,413.54 516.85,413.59 517.55,413.27 518.25,413.64 518.96,414.05 519.66,413.54 520.36,413.83 521.07,413.29 521.77,413.76 522.48,413.81 523.18,413.72 523.88,413.57 524.59,413.53 525.29,413.66 525.99,413.88 526.70,413.20 527.40,413.14 528.10,413.72 528.81,413.87 529.51,413.52 530.21,413.45 530.92,413.70 531.62,413.22 532.33,413.29 533.03,413.23 533.73,413.58 534.44,413.33 535.14,413.26 535.84,413.67 536.55,413.91 537.25,413.32 537.95,413.68 538.66,413.42 539.36,413.82 540.06,413.58 540.77,413.29 541.47,413.25 542.17,413.07 542.88,413.48 543.58,413.39 544.29,413.21 544.99,413.37 545.69,413.34 546.40,413.75 547.10,413.18 547.82,413.91 548.54,413.41 549.25,413.48 549.97,413.33 550.69,413.62 551.41,413.57 552.13,413.30 552.85,413.19 553.56,413.37 554.28,413.46 555.00,413.01 555.80,413.11 556.60,413.11 557.40,412.47 558.20,412.06 559.00,411.86 559.71,412.25 560.42,412.17 561.13,412.38 561.84,412.24 562.55,411.64 563.25,411.55 563.96,411.56 564.67,411.45 565.38,411.88 566.09,411.97 566.80,411.96 567.56,411.45 568.31,412.07 569.07,411.65 569.83,411.82 570.59,412.16 571.34,411.66 572.10,411.73 572.83,412.75 573.55,412.61 574.27,413.02 575.00,413.57 575.71,413.69 576.41,413.11 577.12,413.44 577.83,413.56 578.54,413.63 579.24,413.41 579.95,413.78 580.66,414.14 581.36,413.66 582.07,413.83 582.78,413.47 583.49,413.64 584.19,414.02 584.90,413.55 585.70,413.90 586.50,413.57 587.20,412.40 587.90,412.73 588.60,411.79 589.43,412.38 590.27,412.60 591.10,412.42 591.81,412.89 592.53,413.00 593.24,413.26 593.96,412.90 594.67,413.47 595.39,413.79 596.10,413.66 596.93,414.57 597.77,415.22 598.60,416.59 599.43,416.07 600.27,416.00 601.10,415.56 602.30,412.36 603.01,411.92 603.71,412.25 604.42,412.14 605.13,411.64 605.84,412.19 606.54,411.88 607.25,411.31 607.96,411.95 608.66,411.14 609.37,411.22 610.08,411.48 610.79,411.27 611.49,411.14 612.20,411.13 613.03,410.76 613.87,410.43 614.70,410.11 615.44,410.45 616.18,411.47 616.92,411.95 617.66,412.20 618.40,412.82 619.70,415.27 620.50,414.96 621.30,414.83 622.10,415.04 622.81,414.20 623.53,414.53 624.24,414.22 624.96,414.60 625.67,414.14 626.39,414.04 627.10,414.01 628.40,411.04 629.22,410.98 630.03,410.33 630.85,410.51 631.67,409.58 632.48,409.46 633.30,409.04 634.00,409.06 634.71,409.68 635.41,409.64 636.11,409.17 636.82,409.19 637.52,409.40 638.22,409.71 638.93,409.79 639.63,409.74 640.33,409.62 641.04,409.23 641.74,409.47 642.44,409.30 643.15,409.61 643.85,409.66 644.55,409.35 645.26,409.40 645.96,409.89 646.66,409.23 647.37,409.94 648.07,410.03 648.77,410.10 649.48,409.60 650.18,409.77 650.88,409.81 651.59,409.87 652.29,410.19 652.99,409.94 653.70,409.61 654.40,409.80" fill="none" stroke="#000" stroke-width="2.2" stroke-linejoin="round" stroke-linecap="round" />
<line x1="586.80" y1="413.50" x2="586.80" y2="420.30" stroke="#000" stroke-width="0.9" />
<line x1="591.70" y1="412.50" x2="591.70" y2="417.90" stroke="#000" stroke-width="0.9" />
<line x1="597.30" y1="413.50" x2="597.30" y2="419.10" stroke="#000" stroke-width="0.9" />
<line x1="627.70" y1="414.00" x2="627.70" y2="421.60" stroke="#000" stroke-width="0.9" />
<defs>
<linearGradient id="ga1" x1="0" y1="0" x2="0" y2="1"><stop offset="0" stop-color="#f7781a"/><stop offset="0.35" stop-color="#f9a04a"/><stop offset="1" stop-color="#fdf3e2"/></linearGradient>
<linearGradient id="ga2" x1="0" y1="0" x2="0" y2="1"><stop offset="0" stop-color="#ee2a48"/><stop offset="0.35" stop-color="#f36a80"/><stop offset="1" stop-color="#fcecef"/></linearGradient>
<linearGradient id="ga3" x1="0" y1="0" x2="0" y2="1"><stop offset="0" stop-color="#2472da"/><stop offset="0.35" stop-color="#5a98e6"/><stop offset="1" stop-color="#eaf2fc"/></linearGradient>
<linearGradient id="gmem" x1="0" y1="0" x2="1" y2="0"><stop offset="0" stop-color="#d8d8d8"/><stop offset="0.45" stop-color="#f0f0f0"/><stop offset="1" stop-color="#dedede"/></linearGradient>
</defs>
<polygon points="155.10,34.50 166.40,32.60 207.90,69.40 196.60,71.30" fill="#8c8a8a" stroke="#8c8a8a" stroke-width="0.4" stroke-linejoin="round"/>
<polygon points="196.60,71.30 207.90,69.40 207.90,142.00 196.60,141.50" fill="#7f7c7c" stroke="#7f7c7c" stroke-width="0.4" stroke-linejoin="round"/>
<polygon points="155.10,34.50 196.60,71.30 196.60,141.50 155.10,104.70" fill="#888181" stroke="#888181" stroke-width="0.4" stroke-linejoin="round"/>
<ellipse cx="159.60" cy="47.00" rx="1.75" ry="3.4" fill="#fff" transform="rotate(-15 159.60 47.00)"/>
<ellipse cx="192.20" cy="76.00" rx="1.75" ry="3.4" fill="#fff" transform="rotate(-15 192.20 76.00)"/>
<ellipse cx="192.30" cy="132.00" rx="1.75" ry="3.4" fill="#fff" transform="rotate(-15 192.30 132.00)"/>
<line x1="149.6" y1="52.6" x2="153.8" y2="54.6" stroke="#6d4a40" stroke-width="5" stroke-linecap="round"/>
<line x1="149.3" y1="51.1" x2="153.5" y2="53" stroke="#8c6a60" stroke-width="1.2" stroke-linecap="round"/>
<polygon points="155.00,57.60 174.90,73.60 174.90,113.00 155.00,97.00" fill="#1e1e1e" stroke="#1e1e1e" stroke-width="0.4" stroke-linejoin="round"/>
<polygon points="158.30,69.60 169.60,78.40 169.60,99.50 158.30,90.20" fill="#42b649" stroke="#42b649" stroke-width="0.4" stroke-linejoin="round"/>
<polygon points="174.90,74.90 183.50,81.00 183.50,110.10 174.90,104.00" fill="#8c8888" stroke="#8c8888" stroke-width="0.4" stroke-linejoin="round"/>
<line x1="175.2" y1="78.0" x2="183.2" y2="82.8" stroke="#f4f4f4" stroke-width="1.3"/>
<line x1="175.2" y1="82.6" x2="183.2" y2="87.4" stroke="#f4f4f4" stroke-width="1.3"/>
<line x1="175.2" y1="87.2" x2="183.2" y2="92.0" stroke="#f4f4f4" stroke-width="1.3"/>
<line x1="175.2" y1="91.8" x2="183.2" y2="96.6" stroke="#f4f4f4" stroke-width="1.3"/>
<line x1="175.2" y1="96.4" x2="183.2" y2="101.2" stroke="#f4f4f4" stroke-width="1.3"/>
<line x1="175.2" y1="101.0" x2="183.2" y2="105.8" stroke="#f4f4f4" stroke-width="1.3"/>
<line x1="175.2" y1="105.6" x2="183.2" y2="110.4" stroke="#f4f4f4" stroke-width="1.3"/>
<path d="M164.5,82.5 L182.9,78.9 M164.5,86 L178.9,92.9" stroke="#f2bfc6" stroke-width="1.4" fill="none"/>
<ellipse cx="163.4" cy="84.2" rx="3.3" ry="2.4" fill="none" stroke="#f2bfc6" stroke-width="1.3"/>
<rect x="183.3" y="79.8" width="19.5" height="19" fill="#fff"/>
<path d="M192.90,85.35 L189.83,87.12 L186.75,85.35 L186.75,81.80 L189.83,80.03 L192.90,81.80 Z M199.05,85.35 L195.97,87.12 L192.90,85.35 L192.90,81.80 L195.97,80.03 L199.05,81.80 Z M189.83,90.68 L186.75,92.45 L183.68,90.68 L183.68,87.12 L186.75,85.35 L189.83,87.12 Z M195.97,90.68 L192.90,92.45 L189.83,90.68 L189.83,87.12 L192.90,85.35 L195.97,87.12 Z M202.12,90.68 L199.05,92.45 L195.97,90.68 L195.97,87.12 L199.05,85.35 L202.12,87.12 Z M192.90,96.00 L189.83,97.78 L186.75,96.00 L186.75,92.45 L189.83,90.68 L192.90,92.45 Z M199.05,96.00 L195.97,97.78 L192.90,96.00 L192.90,92.45 L195.97,90.68 L199.05,92.45 Z" fill="none" stroke="#3f4796" stroke-width="0.75"/>
<line x1="196.2" y1="115.2" x2="203.7" y2="119.2" stroke="#6d4a40" stroke-width="5.6" stroke-linecap="round"/>
<line x1="196.5" y1="113.9" x2="202.7" y2="117.4" stroke="#8f6e64" stroke-width="1.5" stroke-linecap="round"/>
<ellipse cx="203.7" cy="119.2" rx="3.0" ry="3.1" fill="#5a3a32" stroke="#ececec" stroke-width="0.9"/>
<polygon points="105.30,34.60 116.60,32.70 158.10,69.50 146.80,71.40" fill="#8c8a8a" stroke="#8c8a8a" stroke-width="0.4" stroke-linejoin="round"/>
<polygon points="146.80,71.40 158.10,69.50 158.10,142.00 146.80,143.00" fill="#7f7c7c" stroke="#7f7c7c" stroke-width="0.4" stroke-linejoin="round"/>
<polygon points="105.30,34.60 146.80,71.40 146.80,143.00 105.30,106.20" fill="#888181" stroke="#888181" stroke-width="0.4" stroke-linejoin="round"/>
<polygon points="127.30,76.50 133.40,80.80 133.40,106.40 127.30,102.00" fill="#837f7f" stroke="#837f7f" stroke-width="0.4" stroke-linejoin="round"/>
<polygon points="130.60,80.60 133.10,82.40 133.10,91.80 130.60,90.00" fill="#f2f2f2" stroke="#f2f2f2" stroke-width="0.4" stroke-linejoin="round"/>
<ellipse cx="108.50" cy="48.20" rx="1.75" ry="3.4" fill="#fff" transform="rotate(-15 108.50 48.20)"/>
<ellipse cx="142.20" cy="76.30" rx="1.75" ry="3.4" fill="#fff" transform="rotate(-15 142.20 76.30)"/>
<ellipse cx="142.00" cy="131.60" rx="1.75" ry="3.4" fill="#fff" transform="rotate(-15 142.00 131.60)"/>
<line x1="145.6" y1="114.6" x2="153.9" y2="119.2" stroke="#6d4a40" stroke-width="5.6" stroke-linecap="round"/>
<line x1="145.9" y1="113.3" x2="152.9" y2="117.4" stroke="#8f6e64" stroke-width="1.5" stroke-linecap="round"/>
<ellipse cx="153.9" cy="119.2" rx="3.0" ry="3.1" fill="#5a3a32" stroke="#ececec" stroke-width="0.9"/>
<line x1="129.1" y1="22.3" x2="129.1" y2="32.5" stroke="#e3a33a" stroke-width="0.9"/>
<rect x="126.7" y="32.2" width="5.5" height="20" fill="#e4e4ea" stroke="#cfcfd6" stroke-width="0.4"/>
<rect x="127.1" y="47.6" width="4.7" height="4.4" fill="#fafafa"/>
<polygon points="110.00,53.80 125.90,68.30 125.90,112.00 110.00,99.50" fill="#e6e6e6"/>
<polygon points="117.30,60.50 125.90,68.30 125.90,112.00 117.30,105.30" fill="url(#gmem)"/>
<polygon points="64.50,34.50 75.80,32.60 117.30,69.40 106.00,71.30" fill="#8c8a8a" stroke="#8c8a8a" stroke-width="0.4" stroke-linejoin="round"/>
<polygon points="106.00,71.30 117.30,69.40 117.30,140.80 106.00,142.80" fill="#7f7c7c" stroke="#7f7c7c" stroke-width="0.4" stroke-linejoin="round"/>
<polygon points="64.50,34.50 106.00,71.30 106.00,142.80 64.50,106.00" fill="#888181" stroke="#888181" stroke-width="0.4" stroke-linejoin="round"/>
<polygon points="81.00,72.50 93.00,81.50 93.00,103.30 81.00,94.30" fill="#858080" stroke="#858080" stroke-width="0.4" stroke-linejoin="round"/>
<polygon points="88.20,82.00 91.80,84.50 91.80,94.50 88.20,92.00" fill="#f4f4f4" stroke="#f4f4f4" stroke-width="0.4" stroke-linejoin="round"/>
<ellipse cx="68.00" cy="47.50" rx="1.75" ry="3.4" fill="#fff" transform="rotate(-15 68.00 47.50)"/>
<ellipse cx="100.30" cy="76.00" rx="1.75" ry="3.4" fill="#fff" transform="rotate(-15 100.30 76.00)"/>
<ellipse cx="100.80" cy="131.90" rx="1.75" ry="3.4" fill="#fff" transform="rotate(-15 100.80 131.90)"/>
<line x1="104.6" y1="115.0" x2="112.6" y2="118.8" stroke="#6d4a40" stroke-width="5.6" stroke-linecap="round"/>
<line x1="104.89999999999999" y1="113.7" x2="111.6" y2="117.0" stroke="#8f6e64" stroke-width="1.5" stroke-linecap="round"/>
<ellipse cx="112.6" cy="118.8" rx="3.0" ry="3.1" fill="#5a3a32" stroke="#ececec" stroke-width="0.9"/>
<polygon points="56.80,52.10 81.10,72.60 81.10,112.80 56.80,92.50" fill="#e8e8e8"/>
<polygon points="66.00,59.90 81.10,72.60 81.10,112.80 66.00,100.20" fill="url(#gmem)"/>
<polygon points="17.10,35.70 28.40,33.80 69.90,70.60 58.60,72.50" fill="#827979" stroke="#827979" stroke-width="0.4" stroke-linejoin="round"/>
<polygon points="58.60,72.50 69.90,70.60 69.90,140.80 58.60,144.00" fill="#767170" stroke="#767170" stroke-width="0.4" stroke-linejoin="round"/>
<polygon points="17.10,35.70 58.60,72.50 58.60,144.00 17.10,107.20" fill="#8a8585" stroke="#8a8585" stroke-width="0.4" stroke-linejoin="round"/>
<ellipse cx="21.40" cy="48.70" rx="1.75" ry="3.4" fill="#fff" transform="rotate(-15 21.40 48.70)"/>
<ellipse cx="53.90" cy="76.70" rx="1.75" ry="3.4" fill="#fff" transform="rotate(-15 53.90 76.70)"/>
<ellipse cx="21.40" cy="103.30" rx="1.75" ry="3.4" fill="#fff" transform="rotate(-15 21.40 103.30)"/>
<ellipse cx="53.90" cy="133.00" rx="1.75" ry="3.4" fill="#fff" transform="rotate(-15 53.90 133.00)"/>
<g transform="translate(114.3,121.3) rotate(-47.6)"><polygon points="0,0 6.2,7 2.7,7 2.7,21 -2.7,21 -2.7,7 -6.2,7" fill="url(#ga1)"/></g>
<g transform="translate(155.5,121.4) rotate(-47.6)"><polygon points="0,0 6.2,7 2.7,7 2.7,21 -2.7,21 -2.7,7 -6.2,7" fill="url(#ga2)"/></g>
<g transform="translate(205.3,121.2) rotate(-47.6)"><polygon points="0,0 6.2,7 2.7,7 2.7,21 -2.7,21 -2.7,7 -6.2,7" fill="url(#ga3)"/></g>
<text x="65.40" y="43.80" font-size="10.8" text-anchor="middle" fill="#000" >Anode</text>
<text x="110.70" y="43.80" font-size="10.8" text-anchor="middle" fill="#000" >PEM</text>
<text x="131.30" y="20.30" font-size="10.8" text-anchor="middle" fill="#000" >RE</text>
<text x="162.60" y="43.80" font-size="11" text-anchor="middle" fill="#000" >Cathode</text>
<text x="116.60" y="150.50" font-size="11.1" text-anchor="middle" fill="#000" >Anolyte</text>
<text x="173.00" y="150.50" font-size="11.1" text-anchor="middle" fill="#000" >Catholyte</text>
<text x="215.80" y="146.80" font-size="11.5" text-anchor="start" fill="#000" >O<tspan font-size="7" dx="0.8" dy="3.4">2</tspan></text>
<line x1="66" y1="47" x2="66" y2="59" stroke="#000" stroke-width="1.5"/>
<polygon points="63.3,57.5 68.7,57.5 66,63.8" fill="#000"/>
<line x1="114.8" y1="47" x2="114.8" y2="59" stroke="#000" stroke-width="1.5"/>
<polygon points="112.1,57.5 117.5,57.5 114.8,63.8" fill="#000"/>
<line x1="162.6" y1="47" x2="162.6" y2="59" stroke="#000" stroke-width="1.5"/>
<polygon points="159.9,57.5 165.29999999999998,57.5 162.6,63.8" fill="#000"/>
<defs><pattern id="noise" width="23" height="23" patternUnits="userSpaceOnUse"><rect x="0" y="0" width="1" height="1" fill="rgb(44,44,44)"/><rect x="0" y="1" width="1" height="1" fill="rgb(38,38,38)"/><rect x="0" y="2" width="1" height="1" fill="rgb(69,69,69)"/><rect x="0" y="3" width="1" height="1" fill="rgb(72,72,72)"/><rect x="0" y="4" width="1" height="1" fill="rgb(67,67,67)"/><rect x="0" y="5" width="1" height="1" fill="rgb(40,40,40)"/><rect x="0" y="6" width="1" height="1" fill="rgb(169,169,169)"/><rect x="0" y="7" width="1" height="1" fill="rgb(70,70,70)"/><rect x="0" y="8" width="1" height="1" fill="rgb(217,217,217)"/><rect x="0" y="9" width="1" height="1" fill="rgb(225,225,225)"/><rect x="0" y="10" width="1" height="1" fill="rgb(75,75,75)"/><rect x="0" y="11" width="1" height="1" fill="rgb(168,168,168)"/><rect x="0" y="12" width="1" height="1" fill="rgb(190,190,190)"/><rect x="0" y="13" width="1" height="1" fill="rgb(49,49,49)"/><rect x="0" y="14" width="1" height="1" fill="rgb(43,43,43)"/><rect x="0" y="15" width="1" height="1" fill="rgb(44,44,44)"/><rect x="0" y="16" width="1" height="1" fill="rgb(201,201,201)"/><rect x="0" y="17" width="1" height="1" fill="rgb(78,78,78)"/><rect x="0" y="18" width="1" height="1" fill="rgb(72,72,72)"/><rect x="0" y="19" width="1" height="1" fill="rgb(177,177,177)"/><rect x="0" y="20" width="1" height="1" fill="rgb(70,70,70)"/><rect x="0" y="21" width="1" height="1" fill="rgb(126,126,126)"/><rect x="0" y="22" width="1" height="1" fill="rgb(48,48,48)"/><rect x="1" y="0" width="1" height="1" fill="rgb(199,199,199)"/><rect x="1" y="1" width="1" height="1" fill="rgb(185,185,185)"/><rect x="1" y="2" width="1" height="1" fill="rgb(224,224,224)"/><rect x="1" y="3" width="1" height="1" fill="rgb(184,184,184)"/><rect x="1" y="4" width="1" height="1" fill="rgb(46,46,46)"/><rect x="1" y="5" width="1" height="1" fill="rgb(105,105,105)"/><rect x="1" y="6" width="1" height="1" fill="rgb(54,54,54)"/><rect x="1" y="7" width="1" height="1" fill="rgb(221,221,221)"/><rect x="1" y="8" width="1" height="1" fill="rgb(63,63,63)"/><rect x="1" y="9" width="1" height="1" fill="rgb(39,39,39)"/><rect x="1" y="10" width="1" height="1" fill="rgb(61,61,61)"/><rect x="1" y="11" width="1" height="1" fill="rgb(56,56,56)"/><rect x="1" y="12" width="1" height="1" fill="rgb(66,66,66)"/><rect x="1" y="13" width="1" height="1" fill="rgb(207,207,207)"/><rect x="1" y="14" width="1" height="1" fill="rgb(70,70,70)"/><rect x="1" y="15" width="1" height="1" fill="rgb(221,221,221)"/><rect x="1" y="16" width="1" height="1" fill="rgb(111,111,111)"/><rect x="1" y="17" width="1" height="1" fill="rgb(128,128,128)"/><rect x="1" y="18" width="1" height="1" fill="rgb(216,216,216)"/><rect x="1" y="19" width="1" height="1" fill="rgb(218,218,218)"/><rect x="1" y="20" width="1" height="1" fill="rgb(52,52,52)"/><rect x="1" y="21" width="1" height="1" fill="rgb(207,207,207)"/><rect x="1" y="22" width="1" height="1" fill="rgb(79,79,79)"/><rect x="2" y="0" width="1" height="1" fill="rgb(71,71,71)"/><rect x="2" y="1" width="1" height="1" fill="rgb(118,118,118)"/><rect x="2" y="2" width="1" height="1" fill="rgb(59,59,59)"/><rect x="2" y="3" width="1" height="1" fill="rgb(112,112,112)"/><rect x="2" y="4" width="1" height="1" fill="rgb(64,64,64)"/><rect x="2" y="5" width="1" height="1" fill="rgb(74,74,74)"/><rect x="2" y="6" width="1" height="1" fill="rgb(38,38,38)"/><rect x="2" y="7" width="1" height="1" fill="rgb(53,53,53)"/><rect x="2" y="8" width="1" height="1" fill="rgb(50,50,50)"/><rect x="2" y="9" width="1" height="1" fill="rgb(66,66,66)"/><rect x="2" y="10" width="1" height="1" fill="rgb(63,63,63)"/><rect x="2" y="11" width="1" height="1" fill="rgb(52,52,52)"/><rect x="2" y="12" width="1" height="1" fill="rgb(117,117,117)"/><rect x="2" y="13" width="1" height="1" fill="rgb(107,107,107)"/><rect x="2" y="14" width="1" height="1" fill="rgb(112,112,112)"/><rect x="2" y="15" width="1" height="1" fill="rgb(114,114,114)"/><rect x="2" y="16" width="1" height="1" fill="rgb(99,99,99)"/><rect x="2" y="17" width="1" height="1" fill="rgb(44,44,44)"/><rect x="2" y="18" width="1" height="1" fill="rgb(49,49,49)"/><rect x="2" y="19" width="1" height="1" fill="rgb(72,72,72)"/><rect x="2" y="20" width="1" height="1" fill="rgb(53,53,53)"/><rect x="2" y="21" width="1" height="1" fill="rgb(61,61,61)"/><rect x="2" y="22" width="1" height="1" fill="rgb(204,204,204)"/><rect x="3" y="0" width="1" height="1" fill="rgb(225,225,225)"/><rect x="3" y="1" width="1" height="1" fill="rgb(67,67,67)"/><rect x="3" y="2" width="1" height="1" fill="rgb(131,131,131)"/><rect x="3" y="3" width="1" height="1" fill="rgb(168,168,168)"/><rect x="3" y="4" width="1" height="1" fill="rgb(220,220,220)"/><rect x="3" y="5" width="1" height="1" fill="rgb(133,133,133)"/><rect x="3" y="6" width="1" height="1" fill="rgb(115,115,115)"/><rect x="3" y="7" width="1" height="1" fill="rgb(60,60,60)"/><rect x="3" y="8" width="1" height="1" fill="rgb(75,75,75)"/><rect x="3" y="9" width="1" height="1" fill="rgb(47,47,47)"/><rect x="3" y="10" width="1" height="1" fill="rgb(48,48,48)"/><rect x="3" y="11" width="1" height="1" fill="rgb(172,172,172)"/><rect x="3" y="12" width="1" height="1" fill="rgb(38,38,38)"/><rect x="3" y="13" width="1" height="1" fill="rgb(71,71,71)"/><rect x="3" y="14" width="1" height="1" fill="rgb(41,41,41)"/><rect x="3" y="15" width="1" height="1" fill="rgb(129,129,129)"/><rect x="3" y="16" width="1" height="1" fill="rgb(48,48,48)"/><rect x="3" y="17" width="1" height="1" fill="rgb(174,174,174)"/><rect x="3" y="18" width="1" height="1" fill="rgb(187,187,187)"/><rect x="3" y="19" width="1" height="1" fill="rgb(195,195,195)"/><rect x="3" y="20" width="1" height="1" fill="rgb(66,66,66)"/><rect x="3" y="21" width="1" height="1" fill="rgb(119,119,119)"/><rect x="3" y="22" width="1" height="1" fill="rgb(184,184,184)"/><rect x="4" y="0" width="1" height="1" fill="rgb(41,41,41)"/><rect x="4" y="1" width="1" height="1" fill="rgb(106,106,106)"/><rect x="4" y="2" width="1" height="1" fill="rgb(209,209,209)"/><rect x="4" y="3" width="1" height="1" fill="rgb(36,36,36)"/><rect x="4" y="4" width="1" height="1" fill="rgb(68,68,68)"/><rect x="4" y="5" width="1" height="1" fill="rgb(79,79,79)"/><rect x="4" y="6" width="1" height="1" fill="rgb(166,166,166)"/><rect x="4" y="7" width="1" height="1" fill="rgb(109,109,109)"/><rect x="4" y="8" width="1" height="1" fill="rgb(95,95,95)"/><rect x="4" y="9" width="1" height="1" fill="rgb(106,106,106)"/><rect x="4" y="10" width="1" height="1" fill="rgb(223,223,223)"/><rect x="4" y="11" width="1" height="1" fill="rgb(49,49,49)"/><rect x="4" y="12" width="1" height="1" fill="rgb(214,214,214)"/><rect x="4" y="13" width="1" height="1" fill="rgb(205,205,205)"/><rect x="4" y="14" width="1" height="1" fill="rgb(47,47,47)"/><rect x="4" y="15" width="1" height="1" fill="rgb(115,115,115)"/><rect x="4" y="16" width="1" height="1" fill="rgb(104,104,104)"/><rect x="4" y="17" width="1" height="1" fill="rgb(66,66,66)"/><rect x="4" y="18" width="1" height="1" fill="rgb(36,36,36)"/><rect x="4" y="19" width="1" height="1" fill="rgb(107,107,107)"/><rect x="4" y="20" width="1" height="1" fill="rgb(177,177,177)"/><rect x="4" y="21" width="1" height="1" fill="rgb(112,112,112)"/><rect x="4" y="22" width="1" height="1" fill="rgb(224,224,224)"/><rect x="5" y="0" width="1" height="1" fill="rgb(112,112,112)"/><rect x="5" y="1" width="1" height="1" fill="rgb(113,113,113)"/><rect x="5" y="2" width="1" height="1" fill="rgb(41,41,41)"/><rect x="5" y="3" width="1" height="1" fill="rgb(47,47,47)"/><rect x="5" y="4" width="1" height="1" fill="rgb(65,65,65)"/><rect x="5" y="5" width="1" height="1" fill="rgb(222,222,222)"/><rect x="5" y="6" width="1" height="1" fill="rgb(165,165,165)"/><rect x="5" y="7" width="1" height="1" fill="rgb(206,206,206)"/><rect x="5" y="8" width="1" height="1" fill="rgb(76,76,76)"/><rect x="5" y="9" width="1" height="1" fill="rgb(77,77,77)"/><rect x="5" y="10" width="1" height="1" fill="rgb(59,59,59)"/><rect x="5" y="11" width="1" height="1" fill="rgb(102,102,102)"/><rect x="5" y="12" width="1" height="1" fill="rgb(176,176,176)"/><rect x="5" y="13" width="1" height="1" fill="rgb(205,205,205)"/><rect x="5" y="14" width="1" height="1" fill="rgb(60,60,60)"/><rect x="5" y="15" width="1" height="1" fill="rgb(212,212,212)"/><rect x="5" y="16" width="1" height="1" fill="rgb(100,100,100)"/><rect x="5" y="17" width="1" height="1" fill="rgb(43,43,43)"/><rect x="5" y="18" width="1" height="1" fill="rgb(72,72,72)"/><rect x="5" y="19" width="1" height="1" fill="rgb(131,131,131)"/><rect x="5" y="20" width="1" height="1" fill="rgb(73,73,73)"/><rect x="5" y="21" width="1" height="1" fill="rgb(132,132,132)"/><rect x="5" y="22" width="1" height="1" fill="rgb(99,99,99)"/><rect x="6" y="0" width="1" height="1" fill="rgb(173,173,173)"/><rect x="6" y="1" width="1" height="1" fill="rgb(76,76,76)"/><rect x="6" y="2" width="1" height="1" fill="rgb(43,43,43)"/><rect x="6" y="3" width="1" height="1" fill="rgb(220,220,220)"/><rect x="6" y="4" width="1" height="1" fill="rgb(48,48,48)"/><rect x="6" y="5" width="1" height="1" fill="rgb(48,48,48)"/><rect x="6" y="6" width="1" height="1" fill="rgb(50,50,50)"/><rect x="6" y="7" width="1" height="1" fill="rgb(110,110,110)"/><rect x="6" y="8" width="1" height="1" fill="rgb(61,61,61)"/><rect x="6" y="9" width="1" height="1" fill="rgb(93,93,93)"/><rect x="6" y="10" width="1" height="1" fill="rgb(112,112,112)"/><rect x="6" y="11" width="1" height="1" fill="rgb(132,132,132)"/><rect x="6" y="12" width="1" height="1" fill="rgb(222,222,222)"/><rect x="6" y="13" width="1" height="1" fill="rgb(217,217,217)"/><rect x="6" y="14" width="1" height="1" fill="rgb(122,122,122)"/><rect x="6" y="15" width="1" height="1" fill="rgb(44,44,44)"/><rect x="6" y="16" width="1" height="1" fill="rgb(166,166,166)"/><rect x="6" y="17" width="1" height="1" fill="rgb(101,101,101)"/><rect x="6" y="18" width="1" height="1" fill="rgb(214,214,214)"/><rect x="6" y="19" width="1" height="1" fill="rgb(101,101,101)"/><rect x="6" y="20" width="1" height="1" fill="rgb(74,74,74)"/><rect x="6" y="21" width="1" height="1" fill="rgb(125,125,125)"/><rect x="6" y="22" width="1" height="1" fill="rgb(78,78,78)"/><rect x="7" y="0" width="1" height="1" fill="rgb(200,200,200)"/><rect x="7" y="1" width="1" height="1" fill="rgb(214,214,214)"/><rect x="7" y="2" width="1" height="1" fill="rgb(70,70,70)"/><rect x="7" y="3" width="1" height="1" fill="rgb(47,47,47)"/><rect x="7" y="4" width="1" height="1" fill="rgb(41,41,41)"/><rect x="7" y="5" width="1" height="1" fill="rgb(200,200,200)"/><rect x="7" y="6" width="1" height="1" fill="rgb(39,39,39)"/><rect x="7" y="7" width="1" height="1" fill="rgb(204,204,204)"/><rect x="7" y="8" width="1" height="1" fill="rgb(128,128,128)"/><rect x="7" y="9" width="1" height="1" fill="rgb(209,209,209)"/><rect x="7" y="10" width="1" height="1" fill="rgb(67,67,67)"/><rect x="7" y="11" width="1" height="1" fill="rgb(195,195,195)"/><rect x="7" y="12" width="1" height="1" fill="rgb(180,180,180)"/><rect x="7" y="13" width="1" height="1" fill="rgb(106,106,106)"/><rect x="7" y="14" width="1" height="1" fill="rgb(102,102,102)"/><rect x="7" y="15" width="1" height="1" fill="rgb(98,98,98)"/><rect x="7" y="16" width="1" height="1" fill="rgb(60,60,60)"/><rect x="7" y="17" width="1" height="1" fill="rgb(169,169,169)"/><rect x="7" y="18" width="1" height="1" fill="rgb(192,192,192)"/><rect x="7" y="19" width="1" height="1" fill="rgb(77,77,77)"/><rect x="7" y="20" width="1" height="1" fill="rgb(42,42,42)"/><rect x="7" y="21" width="1" height="1" fill="rgb(99,99,99)"/><rect x="7" y="22" width="1" height="1" fill="rgb(131,131,131)"/><rect x="8" y="0" width="1" height="1" fill="rgb(174,174,174)"/><rect x="8" y="1" width="1" height="1" fill="rgb(43,43,43)"/><rect x="8" y="2" width="1" height="1" fill="rgb(104,104,104)"/><rect x="8" y="3" width="1" height="1" fill="rgb(96,96,96)"/><rect x="8" y="4" width="1" height="1" fill="rgb(66,66,66)"/><rect x="8" y="5" width="1" height="1" fill="rgb(77,77,77)"/><rect x="8" y="6" width="1" height="1" fill="rgb(100,100,100)"/><rect x="8" y="7" width="1" height="1" fill="rgb(122,122,122)"/><rect x="8" y="8" width="1" height="1" fill="rgb(61,61,61)"/><rect x="8" y="9" width="1" height="1" fill="rgb(55,55,55)"/><rect x="8" y="10" width="1" height="1" fill="rgb(58,58,58)"/><rect x="8" y="11" width="1" height="1" fill="rgb(70,70,70)"/><rect x="8" y="12" width="1" height="1" fill="rgb(210,210,210)"/><rect x="8" y="13" width="1" height="1" fill="rgb(56,56,56)"/><rect x="8" y="14" width="1" height="1" fill="rgb(183,183,183)"/><rect x="8" y="15" width="1" height="1" fill="rgb(169,169,169)"/><rect x="8" y="16" width="1" height="1" fill="rgb(49,49,49)"/><rect x="8" y="17" width="1" height="1" fill="rgb(96,96,96)"/><rect x="8" y="18" width="1" height="1" fill="rgb(52,52,52)"/><rect x="8" y="19" width="1" height="1" fill="rgb(46,46,46)"/><rect x="8" y="20" width="1" height="1" fill="rgb(43,43,43)"/><rect x="8" y="21" width="1" height="1" fill="rgb(133,133,133)"/><rect x="8" y="22" width="1" height="1" fill="rgb(106,106,106)"/><rect x="9" y="0" width="1" height="1" fill="rgb(69,69,69)"/><rect x="9" y="1" width="1" height="1" fill="rgb(126,126,126)"/><rect x="9" y="2" width="1" height="1" fill="rgb(185,185,185)"/><rect x="9" y="3" width="1" height="1" fill="rgb(38,38,38)"/><rect x="9" y="4" width="1" height="1" fill="rgb(101,101,101)"/><rect x="9" y="5" width="1" height="1" fill="rgb(169,169,169)"/><rect x="9" y="6" width="1" height="1" fill="rgb(36,36,36)"/><rect x="9" y="7" width="1" height="1" fill="rgb(216,216,216)"/><rect x="9" y="8" width="1" height="1" fill="rgb(73,73,73)"/><rect x="9" y="9" width="1" height="1" fill="rgb(94,94,94)"/><rect x="9" y="10" width="1" height="1" fill="rgb(42,42,42)"/><rect x="9" y="11" width="1" height="1" fill="rgb(186,186,186)"/><rect x="9" y="12" width="1" height="1" fill="rgb(116,116,116)"/><rect x="9" y="13" width="1" height="1" fill="rgb(107,107,107)"/><rect x="9" y="14" width="1" height="1" fill="rgb(167,167,167)"/><rect x="9" y="15" width="1" height="1" fill="rgb(180,180,180)"/><rect x="9" y="16" width="1" height="1" fill="rgb(100,100,100)"/><rect x="9" y="17" width="1" height="1" fill="rgb(46,46,46)"/><rect x="9" y="18" width="1" height="1" fill="rgb(54,54,54)"/><rect x="9" y="19" width="1" height="1" fill="rgb(198,198,198)"/><rect x="9" y="20" width="1" height="1" fill="rgb(108,108,108)"/><rect x="9" y="21" width="1" height="1" fill="rgb(208,208,208)"/><rect x="9" y="22" width="1" height="1" fill="rgb(57,57,57)"/><rect x="10" y="0" width="1" height="1" fill="rgb(106,106,106)"/><rect x="10" y="1" width="1" height="1" fill="rgb(36,36,36)"/><rect x="10" y="2" width="1" height="1" fill="rgb(125,125,125)"/><rect x="10" y="3" width="1" height="1" fill="rgb(122,122,122)"/><rect x="10" y="4" width="1" height="1" fill="rgb(224,224,224)"/><rect x="10" y="5" width="1" height="1" fill="rgb(207,207,207)"/><rect x="10" y="6" width="1" height="1" fill="rgb(117,117,117)"/><rect x="10" y="7" width="1" height="1" fill="rgb(199,199,199)"/><rect x="10" y="8" width="1" height="1" fill="rgb(115,115,115)"/><rect x="10" y="9" width="1" height="1" fill="rgb(109,109,109)"/><rect x="10" y="10" width="1" height="1" fill="rgb(104,104,104)"/><rect x="10" y="11" width="1" height="1" fill="rgb(80,80,80)"/><rect x="10" y="12" width="1" height="1" fill="rgb(98,98,98)"/><rect x="10" y="13" width="1" height="1" fill="rgb(57,57,57)"/><rect x="10" y="14" width="1" height="1" fill="rgb(98,98,98)"/><rect x="10" y="15" width="1" height="1" fill="rgb(75,75,75)"/><rect x="10" y="16" width="1" height="1" fill="rgb(106,106,106)"/><rect x="10" y="17" width="1" height="1" fill="rgb(168,168,168)"/><rect x="10" y="18" width="1" height="1" fill="rgb(59,59,59)"/><rect x="10" y="19" width="1" height="1" fill="rgb(132,132,132)"/><rect x="10" y="20" width="1" height="1" fill="rgb(128,128,128)"/><rect x="10" y="21" width="1" height="1" fill="rgb(53,53,53)"/><rect x="10" y="22" width="1" height="1" fill="rgb(46,46,46)"/><rect x="11" y="0" width="1" height="1" fill="rgb(63,63,63)"/><rect x="11" y="1" width="1" height="1" fill="rgb(58,58,58)"/><rect x="11" y="2" width="1" height="1" fill="rgb(125,125,125)"/><rect x="11" y="3" width="1" height="1" fill="rgb(37,37,37)"/><rect x="11" y="4" width="1" height="1" fill="rgb(109,109,109)"/><rect x="11" y="5" width="1" height="1" fill="rgb(46,46,46)"/><rect x="11" y="6" width="1" height="1" fill="rgb(59,59,59)"/><rect x="11" y="7" width="1" height="1" fill="rgb(52,52,52)"/><rect x="11" y="8" width="1" height="1" fill="rgb(177,177,177)"/><rect x="11" y="9" width="1" height="1" fill="rgb(35,35,35)"/><rect x="11" y="10" width="1" height="1" fill="rgb(40,40,40)"/><rect x="11" y="11" width="1" height="1" fill="rgb(72,72,72)"/><rect x="11" y="12" width="1" height="1" fill="rgb(36,36,36)"/><rect x="11" y="13" width="1" height="1" fill="rgb(75,75,75)"/><rect x="11" y="14" width="1" height="1" fill="rgb(72,72,72)"/><rect x="11" y="15" width="1" height="1" fill="rgb(99,99,99)"/><rect x="11" y="16" width="1" height="1" fill="rgb(210,210,210)"/><rect x="11" y="17" width="1" height="1" fill="rgb(128,128,128)"/><rect x="11" y="18" width="1" height="1" fill="rgb(55,55,55)"/><rect x="11" y="19" width="1" height="1" fill="rgb(121,121,121)"/><rect x="11" y="20" width="1" height="1" fill="rgb(74,74,74)"/><rect x="11" y="21" width="1" height="1" fill="rgb(167,167,167)"/><rect x="11" y="22" width="1" height="1" fill="rgb(135,135,135)"/><rect x="12" y="0" width="1" height="1" fill="rgb(130,130,130)"/><rect x="12" y="1" width="1" height="1" fill="rgb(209,209,209)"/><rect x="12" y="2" width="1" height="1" fill="rgb(98,98,98)"/><rect x="12" y="3" width="1" height="1" fill="rgb(122,122,122)"/><rect x="12" y="4" width="1" height="1" fill="rgb(217,217,217)"/><rect x="12" y="5" width="1" height="1" fill="rgb(133,133,133)"/><rect x="12" y="6" width="1" height="1" fill="rgb(222,222,222)"/><rect x="12" y="7" width="1" height="1" fill="rgb(134,134,134)"/><rect x="12" y="8" width="1" height="1" fill="rgb(170,170,170)"/><rect x="12" y="9" width="1" height="1" fill="rgb(43,43,43)"/><rect x="12" y="10" width="1" height="1" fill="rgb(171,171,171)"/><rect x="12" y="11" width="1" height="1" fill="rgb(63,63,63)"/><rect x="12" y="12" width="1" height="1" fill="rgb(205,205,205)"/><rect x="12" y="13" width="1" height="1" fill="rgb(69,69,69)"/><rect x="12" y="14" width="1" height="1" fill="rgb(121,121,121)"/><rect x="12" y="15" width="1" height="1" fill="rgb(64,64,64)"/><rect x="12" y="16" width="1" height="1" fill="rgb(122,122,122)"/><rect x="12" y="17" width="1" height="1" fill="rgb(95,95,95)"/><rect x="12" y="18" width="1" height="1" fill="rgb(169,169,169)"/><rect x="12" y="19" width="1" height="1" fill="rgb(120,120,120)"/><rect x="12" y="20" width="1" height="1" fill="rgb(39,39,39)"/><rect x="12" y="21" width="1" height="1" fill="rgb(105,105,105)"/><rect x="12" y="22" width="1" height="1" fill="rgb(103,103,103)"/><rect x="13" y="0" width="1" height="1" fill="rgb(76,76,76)"/><rect x="13" y="1" width="1" height="1" fill="rgb(121,121,121)"/><rect x="13" y="2" width="1" height="1" fill="rgb(94,94,94)"/><rect x="13" y="3" width="1" height="1" fill="rgb(208,208,208)"/><rect x="13" y="4" width="1" height="1" fill="rgb(37,37,37)"/><rect x="13" y="5" width="1" height="1" fill="rgb(206,206,206)"/><rect x="13" y="6" width="1" height="1" fill="rgb(73,73,73)"/><rect x="13" y="7" width="1" height="1" fill="rgb(51,51,51)"/><rect x="13" y="8" width="1" height="1" fill="rgb(209,209,209)"/><rect x="13" y="9" width="1" height="1" fill="rgb(71,71,71)"/><rect x="13" y="10" width="1" height="1" fill="rgb(65,65,65)"/><rect x="13" y="11" width="1" height="1" fill="rgb(52,52,52)"/><rect x="13" y="12" width="1" height="1" fill="rgb(96,96,96)"/><rect x="13" y="13" width="1" height="1" fill="rgb(133,133,133)"/><rect x="13" y="14" width="1" height="1" fill="rgb(210,210,210)"/><rect x="13" y="15" width="1" height="1" fill="rgb(194,194,194)"/><rect x="13" y="16" width="1" height="1" fill="rgb(214,214,214)"/><rect x="13" y="17" width="1" height="1" fill="rgb(70,70,70)"/><rect x="13" y="18" width="1" height="1" fill="rgb(40,40,40)"/><rect x="13" y="19" width="1" height="1" fill="rgb(91,91,91)"/><rect x="13" y="20" width="1" height="1" fill="rgb(39,39,39)"/><rect x="13" y="21" width="1" height="1" fill="rgb(118,118,118)"/><rect x="13" y="22" width="1" height="1" fill="rgb(114,114,114)"/><rect x="14" y="0" width="1" height="1" fill="rgb(48,48,48)"/><rect x="14" y="1" width="1" height="1" fill="rgb(40,40,40)"/><rect x="14" y="2" width="1" height="1" fill="rgb(68,68,68)"/><rect x="14" y="3" width="1" height="1" fill="rgb(58,58,58)"/><rect x="14" y="4" width="1" height="1" fill="rgb(75,75,75)"/><rect x="14" y="5" width="1" height="1" fill="rgb(221,221,221)"/><rect x="14" y="6" width="1" height="1" fill="rgb(58,58,58)"/><rect x="14" y="7" width="1" height="1" fill="rgb(66,66,66)"/><rect x="14" y="8" width="1" height="1" fill="rgb(45,45,45)"/><rect x="14" y="9" width="1" height="1" fill="rgb(66,66,66)"/><rect x="14" y="10" width="1" height="1" fill="rgb(115,115,115)"/><rect x="14" y="11" width="1" height="1" fill="rgb(44,44,44)"/><rect x="14" y="12" width="1" height="1" fill="rgb(59,59,59)"/><rect x="14" y="13" width="1" height="1" fill="rgb(56,56,56)"/><rect x="14" y="14" width="1" height="1" fill="rgb(56,56,56)"/><rect x="14" y="15" width="1" height="1" fill="rgb(97,97,97)"/><rect x="14" y="16" width="1" height="1" fill="rgb(102,102,102)"/><rect x="14" y="17" width="1" height="1" fill="rgb(108,108,108)"/><rect x="14" y="18" width="1" height="1" fill="rgb(39,39,39)"/><rect x="14" y="19" width="1" height="1" fill="rgb(72,72,72)"/><rect x="14" y="20" width="1" height="1" fill="rgb(62,62,62)"/><rect x="14" y="21" width="1" height="1" fill="rgb(93,93,93)"/><rect x="14" y="22" width="1" height="1" fill="rgb(38,38,38)"/><rect x="15" y="0" width="1" height="1" fill="rgb(108,108,108)"/><rect x="15" y="1" width="1" height="1" fill="rgb(174,174,174)"/><rect x="15" y="2" width="1" height="1" fill="rgb(52,52,52)"/><rect x="15" y="3" width="1" height="1" fill="rgb(185,185,185)"/><rect x="15" y="4" width="1" height="1" fill="rgb(58,58,58)"/><rect x="15" y="5" width="1" height="1" fill="rgb(117,117,117)"/><rect x="15" y="6" width="1" height="1" fill="rgb(130,130,130)"/><rect x="15" y="7" width="1" height="1" fill="rgb(70,70,70)"/><rect x="15" y="8" width="1" height="1" fill="rgb(211,211,211)"/><rect x="15" y="9" width="1" height="1" fill="rgb(61,61,61)"/><rect x="15" y="10" width="1" height="1" fill="rgb(213,213,213)"/><rect x="15" y="11" width="1" height="1" fill="rgb(53,53,53)"/><rect x="15" y="12" width="1" height="1" fill="rgb(223,223,223)"/><rect x="15" y="13" width="1" height="1" fill="rgb(98,98,98)"/><rect x="15" y="14" width="1" height="1" fill="rgb(61,61,61)"/><rect x="15" y="15" width="1" height="1" fill="rgb(54,54,54)"/><rect x="15" y="16" width="1" height="1" fill="rgb(76,76,76)"/><rect x="15" y="17" width="1" height="1" fill="rgb(76,76,76)"/><rect x="15" y="18" width="1" height="1" fill="rgb(65,65,65)"/><rect x="15" y="19" width="1" height="1" fill="rgb(190,190,190)"/><rect x="15" y="20" width="1" height="1" fill="rgb(76,76,76)"/><rect x="15" y="21" width="1" height="1" fill="rgb(48,48,48)"/><rect x="15" y="22" width="1" height="1" fill="rgb(216,216,216)"/><rect x="16" y="0" width="1" height="1" fill="rgb(179,179,179)"/><rect x="16" y="1" width="1" height="1" fill="rgb(186,186,186)"/><rect x="16" y="2" width="1" height="1" fill="rgb(118,118,118)"/><rect x="16" y="3" width="1" height="1" fill="rgb(200,200,200)"/><rect x="16" y="4" width="1" height="1" fill="rgb(40,40,40)"/><rect x="16" y="5" width="1" height="1" fill="rgb(70,70,70)"/><rect x="16" y="6" width="1" height="1" fill="rgb(50,50,50)"/><rect x="16" y="7" width="1" height="1" fill="rgb(71,71,71)"/><rect x="16" y="8" width="1" height="1" fill="rgb(36,36,36)"/><rect x="16" y="9" width="1" height="1" fill="rgb(116,116,116)"/><rect x="16" y="10" width="1" height="1" fill="rgb(68,68,68)"/><rect x="16" y="11" width="1" height="1" fill="rgb(52,52,52)"/><rect x="16" y="12" width="1" height="1" fill="rgb(38,38,38)"/><rect x="16" y="13" width="1" height="1" fill="rgb(201,201,201)"/><rect x="16" y="14" width="1" height="1" fill="rgb(98,98,98)"/><rect x="16" y="15" width="1" height="1" fill="rgb(123,123,123)"/><rect x="16" y="16" width="1" height="1" fill="rgb(220,220,220)"/><rect x="16" y="17" width="1" height="1" fill="rgb(95,95,95)"/><rect x="16" y="18" width="1" height="1" fill="rgb(50,50,50)"/><rect x="16" y="19" width="1" height="1" fill="rgb(76,76,76)"/><rect x="16" y="20" width="1" height="1" fill="rgb(184,184,184)"/><rect x="16" y="21" width="1" height="1" fill="rgb(91,91,91)"/><rect x="16" y="22" width="1" height="1" fill="rgb(62,62,62)"/><rect x="17" y="0" width="1" height="1" fill="rgb(120,120,120)"/><rect x="17" y="1" width="1" height="1" fill="rgb(121,121,121)"/><rect x="17" y="2" width="1" height="1" fill="rgb(60,60,60)"/><rect x="17" y="3" width="1" height="1" fill="rgb(123,123,123)"/><rect x="17" y="4" width="1" height="1" fill="rgb(118,118,118)"/><rect x="17" y="5" width="1" height="1" fill="rgb(41,41,41)"/><rect x="17" y="6" width="1" height="1" fill="rgb(44,44,44)"/><rect x="17" y="7" width="1" height="1" fill="rgb(208,208,208)"/><rect x="17" y="8" width="1" height="1" fill="rgb(79,79,79)"/><rect x="17" y="9" width="1" height="1" fill="rgb(213,213,213)"/><rect x="17" y="10" width="1" height="1" fill="rgb(95,95,95)"/><rect x="17" y="11" width="1" height="1" fill="rgb(167,167,167)"/><rect x="17" y="12" width="1" height="1" fill="rgb(43,43,43)"/><rect x="17" y="13" width="1" height="1" fill="rgb(37,37,37)"/><rect x="17" y="14" width="1" height="1" fill="rgb(184,184,184)"/><rect x="17" y="15" width="1" height="1" fill="rgb(130,130,130)"/><rect x="17" y="16" width="1" height="1" fill="rgb(75,75,75)"/><rect x="17" y="17" width="1" height="1" fill="rgb(213,213,213)"/><rect x="17" y="18" width="1" height="1" fill="rgb(39,39,39)"/><rect x="17" y="19" width="1" height="1" fill="rgb(72,72,72)"/><rect x="17" y="20" width="1" height="1" fill="rgb(51,51,51)"/><rect x="17" y="21" width="1" height="1" fill="rgb(73,73,73)"/><rect x="17" y="22" width="1" height="1" fill="rgb(69,69,69)"/><rect x="18" y="0" width="1" height="1" fill="rgb(64,64,64)"/><rect x="18" y="1" width="1" height="1" fill="rgb(55,55,55)"/><rect x="18" y="2" width="1" height="1" fill="rgb(221,221,221)"/><rect x="18" y="3" width="1" height="1" fill="rgb(68,68,68)"/><rect x="18" y="4" width="1" height="1" fill="rgb(50,50,50)"/><rect x="18" y="5" width="1" height="1" fill="rgb(61,61,61)"/><rect x="18" y="6" width="1" height="1" fill="rgb(109,109,109)"/><rect x="18" y="7" width="1" height="1" fill="rgb(47,47,47)"/><rect x="18" y="8" width="1" height="1" fill="rgb(208,208,208)"/><rect x="18" y="9" width="1" height="1" fill="rgb(170,170,170)"/><rect x="18" y="10" width="1" height="1" fill="rgb(77,77,77)"/><rect x="18" y="11" width="1" height="1" fill="rgb(188,188,188)"/><rect x="18" y="12" width="1" height="1" fill="rgb(37,37,37)"/><rect x="18" y="13" width="1" height="1" fill="rgb(135,135,135)"/><rect x="18" y="14" width="1" height="1" fill="rgb(208,208,208)"/><rect x="18" y="15" width="1" height="1" fill="rgb(35,35,35)"/><rect x="18" y="16" width="1" height="1" fill="rgb(122,122,122)"/><rect x="18" y="17" width="1" height="1" fill="rgb(66,66,66)"/><rect x="18" y="18" width="1" height="1" fill="rgb(109,109,109)"/><rect x="18" y="19" width="1" height="1" fill="rgb(102,102,102)"/><rect x="18" y="20" width="1" height="1" fill="rgb(49,49,49)"/><rect x="18" y="21" width="1" height="1" fill="rgb(53,53,53)"/><rect x="18" y="22" width="1" height="1" fill="rgb(74,74,74)"/><rect x="19" y="0" width="1" height="1" fill="rgb(176,176,176)"/><rect x="19" y="1" width="1" height="1" fill="rgb(121,121,121)"/><rect x="19" y="2" width="1" height="1" fill="rgb(77,77,77)"/><rect x="19" y="3" width="1" height="1" fill="rgb(73,73,73)"/><rect x="19" y="4" width="1" height="1" fill="rgb(60,60,60)"/><rect x="19" y="5" width="1" height="1" fill="rgb(36,36,36)"/><rect x="19" y="6" width="1" height="1" fill="rgb(99,99,99)"/><rect x="19" y="7" width="1" height="1" fill="rgb(80,80,80)"/><rect x="19" y="8" width="1" height="1" fill="rgb(60,60,60)"/><rect x="19" y="9" width="1" height="1" fill="rgb(210,210,210)"/><rect x="19" y="10" width="1" height="1" fill="rgb(97,97,97)"/><rect x="19" y="11" width="1" height="1" fill="rgb(100,100,100)"/><rect x="19" y="12" width="1" height="1" fill="rgb(46,46,46)"/><rect x="19" y="13" width="1" height="1" fill="rgb(198,198,198)"/><rect x="19" y="14" width="1" height="1" fill="rgb(92,92,92)"/><rect x="19" y="15" width="1" height="1" fill="rgb(59,59,59)"/><rect x="19" y="16" width="1" height="1" fill="rgb(111,111,111)"/><rect x="19" y="17" width="1" height="1" fill="rgb(171,171,171)"/><rect x="19" y="18" width="1" height="1" fill="rgb(52,52,52)"/><rect x="19" y="19" width="1" height="1" fill="rgb(61,61,61)"/><rect x="19" y="20" width="1" height="1" fill="rgb(97,97,97)"/><rect x="19" y="21" width="1" height="1" fill="rgb(213,213,213)"/><rect x="19" y="22" width="1" height="1" fill="rgb(57,57,57)"/><rect x="20" y="0" width="1" height="1" fill="rgb(109,109,109)"/><rect x="20" y="1" width="1" height="1" fill="rgb(117,117,117)"/><rect x="20" y="2" width="1" height="1" fill="rgb(80,80,80)"/><rect x="20" y="3" width="1" height="1" fill="rgb(188,188,188)"/><rect x="20" y="4" width="1" height="1" fill="rgb(193,193,193)"/><rect x="20" y="5" width="1" height="1" fill="rgb(58,58,58)"/><rect x="20" y="6" width="1" height="1" fill="rgb(120,120,120)"/><rect x="20" y="7" width="1" height="1" fill="rgb(61,61,61)"/><rect x="20" y="8" width="1" height="1" fill="rgb(75,75,75)"/><rect x="20" y="9" width="1" height="1" fill="rgb(92,92,92)"/><rect x="20" y="10" width="1" height="1" fill="rgb(64,64,64)"/><rect x="20" y="11" width="1" height="1" fill="rgb(38,38,38)"/><rect x="20" y="12" width="1" height="1" fill="rgb(39,39,39)"/><rect x="20" y="13" width="1" height="1" fill="rgb(111,111,111)"/><rect x="20" y="14" width="1" height="1" fill="rgb(56,56,56)"/><rect x="20" y="15" width="1" height="1" fill="rgb(129,129,129)"/><rect x="20" y="16" width="1" height="1" fill="rgb(80,80,80)"/><rect x="20" y="17" width="1" height="1" fill="rgb(107,107,107)"/><rect x="20" y="18" width="1" height="1" fill="rgb(73,73,73)"/><rect x="20" y="19" width="1" height="1" fill="rgb(130,130,130)"/><rect x="20" y="20" width="1" height="1" fill="rgb(94,94,94)"/><rect x="20" y="21" width="1" height="1" fill="rgb(49,49,49)"/><rect x="20" y="22" width="1" height="1" fill="rgb(80,80,80)"/><rect x="21" y="0" width="1" height="1" fill="rgb(114,114,114)"/><rect x="21" y="1" width="1" height="1" fill="rgb(117,117,117)"/><rect x="21" y="2" width="1" height="1" fill="rgb(98,98,98)"/><rect x="21" y="3" width="1" height="1" fill="rgb(101,101,101)"/><rect x="21" y="4" width="1" height="1" fill="rgb(54,54,54)"/><rect x="21" y="5" width="1" height="1" fill="rgb(99,99,99)"/><rect x="21" y="6" width="1" height="1" fill="rgb(185,185,185)"/><rect x="21" y="7" width="1" height="1" fill="rgb(119,119,119)"/><rect x="21" y="8" width="1" height="1" fill="rgb(73,73,73)"/><rect x="21" y="9" width="1" height="1" fill="rgb(47,47,47)"/><rect x="21" y="10" width="1" height="1" fill="rgb(45,45,45)"/><rect x="21" y="11" width="1" height="1" fill="rgb(39,39,39)"/><rect x="21" y="12" width="1" height="1" fill="rgb(195,195,195)"/><rect x="21" y="13" width="1" height="1" fill="rgb(185,185,185)"/><rect x="21" y="14" width="1" height="1" fill="rgb(62,62,62)"/><rect x="21" y="15" width="1" height="1" fill="rgb(94,94,94)"/><rect x="21" y="16" width="1" height="1" fill="rgb(40,40,40)"/><rect x="21" y="17" width="1" height="1" fill="rgb(61,61,61)"/><rect x="21" y="18" width="1" height="1" fill="rgb(210,210,210)"/><rect x="21" y="19" width="1" height="1" fill="rgb(101,101,101)"/><rect x="21" y="20" width="1" height="1" fill="rgb(61,61,61)"/><rect x="21" y="21" width="1" height="1" fill="rgb(222,222,222)"/><rect x="21" y="22" width="1" height="1" fill="rgb(212,212,212)"/><rect x="22" y="0" width="1" height="1" fill="rgb(214,214,214)"/><rect x="22" y="1" width="1" height="1" fill="rgb(172,172,172)"/><rect x="22" y="2" width="1" height="1" fill="rgb(108,108,108)"/><rect x="22" y="3" width="1" height="1" fill="rgb(71,71,71)"/><rect x="22" y="4" width="1" height="1" fill="rgb(51,51,51)"/><rect x="22" y="5" width="1" height="1" fill="rgb(102,102,102)"/><rect x="22" y="6" width="1" height="1" fill="rgb(176,176,176)"/><rect x="22" y="7" width="1" height="1" fill="rgb(44,44,44)"/><rect x="22" y="8" width="1" height="1" fill="rgb(72,72,72)"/><rect x="22" y="9" width="1" height="1" fill="rgb(39,39,39)"/><rect x="22" y="10" width="1" height="1" fill="rgb(50,50,50)"/><rect x="22" y="11" width="1" height="1" fill="rgb(179,179,179)"/><rect x="22" y="12" width="1" height="1" fill="rgb(171,171,171)"/><rect x="22" y="13" width="1" height="1" fill="rgb(167,167,167)"/><rect x="22" y="14" width="1" height="1" fill="rgb(65,65,65)"/><rect x="22" y="15" width="1" height="1" fill="rgb(104,104,104)"/><rect x="22" y="16" width="1" height="1" fill="rgb(113,113,113)"/><rect x="22" y="17" width="1" height="1" fill="rgb(53,53,53)"/><rect x="22" y="18" width="1" height="1" fill="rgb(38,38,38)"/><rect x="22" y="19" width="1" height="1" fill="rgb(72,72,72)"/><rect x="22" y="20" width="1" height="1" fill="rgb(39,39,39)"/><rect x="22" y="21" width="1" height="1" fill="rgb(46,46,46)"/><rect x="22" y="22" width="1" height="1" fill="rgb(181,181,181)"/></pattern><linearGradient id="gblue" x1="0" y1="0" x2="1" y2="0"><stop offset="0" stop-color="#a9cbf2"/><stop offset="1" stop-color="#5b98e2"/></linearGradient><radialGradient id="gor"><stop offset="0" stop-color="#f2862a" stop-opacity="1"/><stop offset="0.35" stop-color="#f08a38" stop-opacity="0.85"/><stop offset="0.7" stop-color="#f09050" stop-opacity="0.35"/><stop offset="1" stop-color="#f09050" stop-opacity="0"/></radialGradient><clipPath id="cpcarb"><polygon points="160,420 178,433.5 178,474 160,467"/></clipPath><clipPath id="cpaem"><polygon points="132.8,413 161,428.5 161,495 132.8,485"/></clipPath></defs>
<polygon points="146.40,400.40 153.40,394.00 208.70,417.00 202.80,422.90" fill="#858585" stroke="#858585" stroke-width="0.4" stroke-linejoin="round" />
<polygon points="202.80,422.90 208.70,417.00 208.70,494.00 202.80,500.00" fill="#6e6e6e" stroke="#6e6e6e" stroke-width="0.4" stroke-linejoin="round" />
<polygon points="146.40,400.40 202.80,422.90 202.80,500.00 146.40,478.00" fill="#5e5e5e" stroke="#5e5e5e" stroke-width="0.4" stroke-linejoin="round" />
<polygon points="150.70,423.00 177.80,433.50 177.80,473.60 150.70,463.00" fill="#2c2c2c" stroke="#2c2c2c" stroke-width="0.4" stroke-linejoin="round" />
<path d="M178,438.1 L185,441.1 L185,448 L178.9,445 L178.9,451.4 L185,454.4 L185,461.2 L178.9,458.2 L178.9,464.6 L185.7,467.6" fill="none" stroke="#f4f4f4" stroke-width="2.1" stroke-linejoin="miter"/>
<ellipse cx="153.40" cy="414.50" rx="1.9" ry="3.1" fill="#ebebeb" transform="rotate(-14 153.40 414.50)"/>
<ellipse cx="174.60" cy="423.00" rx="1.9" ry="3.1" fill="#ebebeb" transform="rotate(-14 174.60 423.00)"/>
<ellipse cx="195.70" cy="432.40" rx="1.9" ry="3.1" fill="#ebebeb" transform="rotate(-14 195.70 432.40)"/>
<ellipse cx="195.70" cy="460.40" rx="1.9" ry="3.1" fill="#ebebeb" transform="rotate(-14 195.70 460.40)"/>
<ellipse cx="195.70" cy="486.90" rx="1.9" ry="3.1" fill="#ebebeb" transform="rotate(-14 195.70 486.90)"/>
<ellipse cx="174.70" cy="476.60" rx="1.9" ry="3.1" fill="#ebebeb" transform="rotate(-14 174.70 476.60)"/>
<g clip-path="url(#cpcarb)"><ellipse cx="164.6" cy="443.2" rx="8.5" ry="9.5" fill="url(#gor)"/></g>
<ellipse cx="205.3" cy="476.5" rx="2.2" ry="3.6" fill="#a8a6a6" stroke="#8a8888" stroke-width="0.5"/>
<g transform="translate(205.3,476.3) rotate(29)"><polygon points="0,-2.6 11,-2.6 11,-4 18.5,0 11,4 11,2.6 0,2.6" fill="#abc9f0" stroke="#86b6ef" stroke-width="0.8" stroke-linejoin="round"/></g>
<polygon points="118.40,413.30 160.00,428.80 160.00,494.50 118.40,480.00" fill="#a99a8b" stroke="#a99a8b" stroke-width="0.4" stroke-linejoin="round" />
<g clip-path="url(#cpaem)"><ellipse cx="138.6" cy="455.7" rx="9.5" ry="8" fill="url(#gor)"/></g>
<polygon points="113.20,427.60 133.10,434.40 133.10,474.10 113.20,466.80" fill="url(#noise)" />
<g transform="translate(130.4,410.9) rotate(23)"><polygon points="0,-2.7 8.5,-2.7 8.5,-4.2 15.8,0 8.5,4.2 8.5,2.7 0,2.7" fill="#a6c3ec" stroke="#8ab8ee" stroke-width="0.8" stroke-linejoin="round"/></g>
<polygon points="50.60,402.50 57.10,393.00 113.60,417.00 106.20,423.30" fill="#7e7e7e" stroke="#7e7e7e" stroke-width="0.4" stroke-linejoin="round" />
<polygon points="106.20,423.30 113.60,417.00 113.60,492.40 105.50,499.20" fill="#6a6a6a" stroke="#6a6a6a" stroke-width="0.4" stroke-linejoin="round" />
<polygon points="50.60,402.50 106.20,423.30 105.50,499.20 50.30,476.10" fill="#616161" stroke="#616161" stroke-width="0.4" stroke-linejoin="round" />
<ellipse cx="58.00" cy="414.00" rx="1.9" ry="3.1" fill="#ebebeb" transform="rotate(-14 58.00 414.00)"/>
<ellipse cx="79.00" cy="423.50" rx="1.9" ry="3.1" fill="#ebebeb" transform="rotate(-14 79.00 423.50)"/>
<ellipse cx="99.80" cy="432.50" rx="1.9" ry="3.1" fill="#ebebeb" transform="rotate(-14 99.80 432.50)"/>
<ellipse cx="58.00" cy="442.30" rx="1.9" ry="3.1" fill="#ebebeb" transform="rotate(-14 58.00 442.30)"/>
<ellipse cx="99.80" cy="459.90" rx="1.9" ry="3.1" fill="#ebebeb" transform="rotate(-14 99.80 459.90)"/>
<ellipse cx="58.00" cy="468.80" rx="1.9" ry="3.1" fill="#ebebeb" transform="rotate(-14 58.00 468.80)"/>
<ellipse cx="79.20" cy="477.60" rx="1.9" ry="3.1" fill="#ebebeb" transform="rotate(-14 79.20 477.60)"/>
<ellipse cx="100.00" cy="485.50" rx="1.9" ry="3.1" fill="#ebebeb" transform="rotate(-14 100.00 485.50)"/>
<polygon points="45.5,414.5 50.5,415.5 50.5,422 45.5,421" fill="#9d9b9b"/>
<ellipse cx="45.6" cy="417.8" rx="1.7" ry="3.4" fill="#b2b0b0" stroke="#8a8888" stroke-width="0.4"/>
<g transform="translate(32.2,409) rotate(22)"><polygon points="0,-2.5 8.3,-2.5 8.3,-4.2 15,0 8.3,4.2 8.3,2.5 0,2.5" fill="#4d94ea" stroke="#75acef" stroke-width="0.8" stroke-linejoin="round"/></g>
<ellipse cx="109.5" cy="475.4" rx="2.4" ry="3.8" fill="#a8a6a6" stroke="#8a8888" stroke-width="0.5"/>
<g transform="translate(110.9,475.5) rotate(29)"><polygon points="0,-2.6 10,-2.6 10,-4 17,0 10,4 10,2.6 0,2.6" fill="#abc9f0" stroke="#86b6ef" stroke-width="0.8" stroke-linejoin="round"/></g>
<line x1="136.5" y1="471.1" x2="132.2" y2="466.8" stroke="#000" stroke-width="1.3"/>
<polygon points="130.6,465.2 134.9,466.3 132.0,469.1" fill="#000"/>
<line x1="180.3" y1="471.1" x2="176.5" y2="466.3" stroke="#000" stroke-width="1.3"/>
<polygon points="175.2,464.6 179.2,466.0 176.4,468.4" fill="#000"/>
<text transform="translate(17.2,390.3) rotate(23.5)" font-size="11">Electrolyte</text>
<text transform="translate(11.5,402) rotate(24)" font-size="11">inlet</text>
<text transform="translate(102.5,390.6) rotate(24.5)" font-size="11">Humidified</text>
<text transform="translate(97.3,402.4) rotate(25.5)" font-size="11">O<tspan font-size="7" dy="2">2</tspan><tspan dy="-2"> inlet</tspan></text>
<text transform="translate(93.2,493.0) rotate(26.5)" font-size="12">O<tspan font-size="7.5" dy="2.2">2</tspan><tspan dy="-2.2"> Outlet</tspan></text>
<text x="140.20" y="432.30" font-size="10.8" text-anchor="middle" fill="#000" >AEM</text>
<text transform="translate(148,462.7) rotate(-40)" font-size="11">OH<tspan font-size="7" dy="-4">-</tspan></text>
<text x="142.30" y="479.80" font-size="11.3" text-anchor="middle" fill="#000" >Ti</text>
<text x="149.00" y="493.30" font-size="11" text-anchor="middle" fill="#000" >Mesh</text>
<text x="187.80" y="486.80" font-size="11" text-anchor="middle" fill="#000" >Carbon</text>
<text x="183.80" y="499.60" font-size="11" text-anchor="middle" fill="#000" >Paper</text>
<text x="211.00" y="461.00" font-size="11" text-anchor="start" fill="#000" >H<tspan font-size="7" dy="3.2">2</tspan><tspan dy="-3.2">O</tspan><tspan font-size="7" dy="3.2">2</tspan></text>
<text x="211.00" y="474.20" font-size="11" text-anchor="start" fill="#000" >Outlet</text>
</svg></body></html>
